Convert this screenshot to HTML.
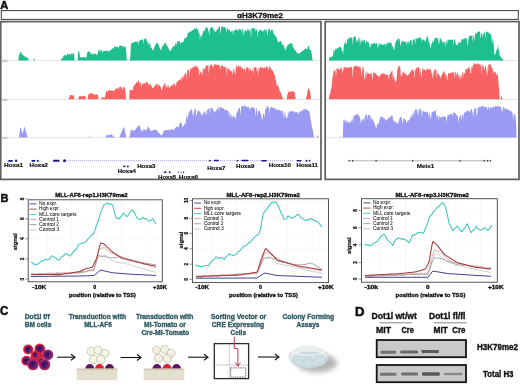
<!DOCTYPE html><html><head><meta charset="utf-8"><style>html,body{margin:0;padding:0;background:#fff;width:520px;height:385px;overflow:hidden;position:relative}</style></head><body><svg width="520" height="385" viewBox="0 0 520 385" style="filter:blur(0.35px);position:absolute;left:0;top:0;font-family:'Liberation Sans',sans-serif">
<rect width="520" height="385" fill="#fff"/>
<text x="0.3" y="8.7" font-size="11.5" font-weight="bold" fill="#111" text-anchor="start" textLength="8" lengthAdjust="spacingAndGlyphs" stroke="#111" stroke-width="0.5" >A</text>
<rect x="1.3" y="10.6" width="517" height="8.8" fill="#fff" stroke="#3a3a3a" stroke-width="1"/>
<text x="2.6" y="23.3" font-size="2.4" fill="#777">1.00</text>
<text x="2.6" y="62.0" font-size="2.4" fill="#777">1.00</text>
<text x="2.6" y="100.9" font-size="2.4" fill="#777">1.00</text>
<text x="2.6" y="139.0" font-size="2.4" fill="#777">1.00</text>
<text x="260" y="18.4" font-size="7.6" font-weight="bold" fill="#111" text-anchor="middle" textLength="46" lengthAdjust="spacingAndGlyphs" stroke="#111" stroke-width="0.3" >αH3K79me2</text>
<line x1="2" y1="60.4" x2="320" y2="60.4" stroke="#ddd" stroke-width="0.8"/>
<line x1="326" y1="60.4" x2="518" y2="60.4" stroke="#ddd" stroke-width="0.8"/>
<text x="2.5" y="61.6" font-size="2.6" fill="#999">0.00</text>
<line x1="2" y1="99.6" x2="320" y2="99.6" stroke="#ddd" stroke-width="0.8"/>
<line x1="326" y1="99.6" x2="518" y2="99.6" stroke="#ddd" stroke-width="0.8"/>
<text x="2.5" y="100.8" font-size="2.6" fill="#999">0.00</text>
<line x1="2" y1="137.6" x2="320" y2="137.6" stroke="#ddd" stroke-width="0.8"/>
<line x1="326" y1="137.6" x2="518" y2="137.6" stroke="#ddd" stroke-width="0.8"/>
<text x="2.5" y="138.79999999999998" font-size="2.6" fill="#999">0.00</text>
<line x1="7" y1="23" x2="7" y2="178" stroke="#f0f0f0" stroke-width="0.6"/>
<path d="M18.30,60.4 L18.30,60.4 L18.90,55.8 L19.50,53.8 L20.10,52.4 L20.70,51.8 L21.30,52.6 L21.90,54.1 L22.50,55.0 L23.10,55.1 L23.70,55.8 L24.30,56.2 L24.90,56.5 L25.50,56.8 L26.10,57.2 L26.70,57.5 L27.30,57.7 L27.90,58.0 L28.50,60.0 L28.60,60.4 Z" fill="#1dbf8c"/>
<rect x="33.8" y="58.6" width="1" height="1.8" fill="#1dbf8c"/>
<path d="M60.80,60.4 L60.80,60.4 L61.40,58.8 L62.00,58.3 L62.60,58.4 L63.20,56.7 L63.80,55.2 L64.40,54.8 L65.00,55.3 L65.60,55.8 L66.20,55.4 L66.80,55.1 L67.40,53.4 L68.00,53.0 L68.60,55.5 L69.20,53.6 L69.80,54.3 L70.40,55.0 L71.00,54.5 L71.60,53.3 L72.20,53.0 L72.80,55.0 L73.40,53.0 L74.00,53.0 L74.60,60.4 L75.20,60.4 L75.80,60.4 L76.40,60.4 L77.00,60.4 L77.60,60.4 L78.20,51.6 L78.80,50.9 L79.40,51.7 L80.00,57.1 L80.60,57.2 L81.20,57.4 L81.80,57.1 L82.40,57.1 L83.00,58.0 L83.60,57.0 L84.20,56.9 L84.80,56.9 L85.40,57.4 L86.00,58.3 L86.60,56.8 L87.20,51.9 L87.80,52.8 L88.40,51.0 L89.00,51.5 L89.60,51.6 L90.20,53.9 L90.80,51.8 L91.40,54.1 L92.00,54.8 L92.60,53.8 L93.20,53.5 L93.80,55.0 L94.40,53.7 L95.00,53.0 L95.60,54.0 L96.20,54.5 L96.80,55.0 L97.40,54.0 L98.00,52.3 L98.60,50.0 L99.20,48.7 L99.80,51.6 L100.40,51.6 L101.00,50.2 L101.60,50.3 L102.20,50.6 L102.80,53.3 L103.40,50.5 L104.00,51.1 L104.60,50.9 L105.20,51.1 L105.80,50.7 L106.40,51.0 L107.00,50.7 L107.60,50.4 L108.20,50.5 L108.80,52.7 L109.40,50.6 L110.00,50.6 L110.60,50.4 L111.20,49.4 L111.80,48.9 L112.40,48.5 L113.00,47.8 L113.60,49.4 L114.20,46.4 L114.80,46.4 L115.40,46.7 L116.00,47.4 L116.60,46.7 L117.20,46.7 L117.80,46.4 L118.40,48.8 L119.00,46.0 L119.60,46.1 L120.20,46.0 L120.80,45.5 L121.40,45.7 L122.00,45.8 L122.60,46.2 L123.20,45.9 L123.80,48.0 L124.40,46.2 L125.00,46.2 L125.60,47.0 L126.20,50.4 L126.80,60.4 L127.40,60.4 L128.00,60.4 L128.60,60.4 L129.20,60.4 L129.80,60.4 L130.40,56.2 L131.00,43.8 L131.60,43.4 L132.20,43.0 L132.80,42.7 L133.40,42.5 L134.00,42.0 L134.60,42.3 L135.20,41.4 L135.80,41.5 L136.40,41.7 L137.00,42.0 L137.60,41.0 L138.20,45.2 L138.80,41.2 L139.40,40.7 L140.00,40.4 L140.60,40.3 L141.20,40.0 L141.80,39.4 L142.40,39.2 L143.00,39.3 L143.60,44.6 L144.20,39.2 L144.80,38.8 L145.40,37.5 L146.00,39.2 L146.60,39.9 L147.20,42.4 L147.80,42.2 L148.40,45.6 L149.00,41.3 L149.60,44.5 L150.20,43.5 L150.80,48.5 L151.40,46.7 L152.00,48.7 L152.60,50.3 L153.20,50.4 L153.80,48.8 L154.40,47.5 L155.00,45.8 L155.60,44.5 L156.20,43.3 L156.80,42.3 L157.40,42.9 L158.00,44.3 L158.60,44.6 L159.20,47.0 L159.80,47.7 L160.40,49.3 L161.00,50.7 L161.60,47.6 L162.20,46.7 L162.80,45.3 L163.40,45.5 L164.00,44.0 L164.60,43.6 L165.20,42.7 L165.80,42.9 L166.40,45.0 L167.00,45.8 L167.60,46.5 L168.20,48.0 L168.80,48.8 L169.40,50.8 L170.00,50.9 L170.60,50.7 L171.20,49.5 L171.80,49.1 L172.40,47.5 L173.00,46.9 L173.60,45.7 L174.20,45.2 L174.80,47.1 L175.40,43.5 L176.00,42.2 L176.60,45.9 L177.20,40.5 L177.80,41.3 L178.40,41.2 L179.00,41.4 L179.60,41.5 L180.20,41.9 L180.80,44.8 L181.40,42.1 L182.00,42.3 L182.60,42.4 L183.20,42.0 L183.80,40.6 L184.40,38.8 L185.00,37.7 L185.60,37.7 L186.20,36.3 L186.80,38.8 L187.40,34.3 L188.00,32.6 L188.60,33.0 L189.20,32.3 L189.80,31.9 L190.40,31.4 L191.00,30.9 L191.60,31.4 L192.20,30.5 L192.80,30.1 L193.40,29.9 L194.00,29.0 L194.60,27.8 L195.20,29.2 L195.80,29.2 L196.40,27.4 L197.00,28.9 L197.60,29.5 L198.20,30.0 L198.80,33.8 L199.40,32.2 L200.00,40.8 L200.60,34.7 L201.20,35.8 L201.80,36.7 L202.40,34.0 L203.00,32.3 L203.60,30.6 L204.20,30.9 L204.80,30.1 L205.40,28.6 L206.00,26.9 L206.60,27.0 L207.20,28.5 L207.80,27.4 L208.40,33.1 L209.00,27.2 L209.60,36.8 L210.20,27.4 L210.80,28.1 L211.40,27.1 L212.00,27.3 L212.60,27.2 L213.20,29.1 L213.80,30.8 L214.40,30.3 L215.00,31.7 L215.60,32.0 L216.20,31.5 L216.80,29.7 L217.40,28.4 L218.00,30.1 L218.60,27.1 L219.20,26.3 L219.80,26.6 L220.40,35.1 L221.00,27.4 L221.60,26.2 L222.20,26.1 L222.80,27.2 L223.40,27.7 L224.00,26.6 L224.60,27.1 L225.20,28.8 L225.80,27.2 L226.40,33.3 L227.00,27.6 L227.60,28.6 L228.20,30.2 L228.80,29.3 L229.40,29.9 L230.00,29.9 L230.60,32.4 L231.20,31.9 L231.80,30.4 L232.40,29.9 L233.00,35.2 L233.60,30.7 L234.20,30.6 L234.80,30.7 L235.40,28.7 L236.00,30.5 L236.60,29.5 L237.20,28.9 L237.80,31.3 L238.40,30.2 L239.00,29.3 L239.60,29.1 L240.20,29.6 L240.80,29.8 L241.40,29.2 L242.00,34.1 L242.60,28.2 L243.20,29.1 L243.80,35.9 L244.40,30.9 L245.00,30.2 L245.60,30.2 L246.20,31.7 L246.80,30.7 L247.40,29.3 L248.00,29.1 L248.60,29.7 L249.20,32.3 L249.80,28.9 L250.40,28.0 L251.00,38.0 L251.60,29.1 L252.20,27.8 L252.80,28.6 L253.40,27.7 L254.00,28.6 L254.60,29.3 L255.20,27.4 L255.80,32.0 L256.40,29.6 L257.00,28.9 L257.60,37.4 L258.20,32.3 L258.80,30.6 L259.40,31.6 L260.00,29.2 L260.60,29.7 L261.20,30.0 L261.80,31.3 L262.40,30.3 L263.00,32.5 L263.60,30.4 L264.20,28.5 L264.80,30.4 L265.40,30.9 L266.00,29.8 L266.60,29.2 L267.20,35.3 L267.80,34.6 L268.40,28.9 L269.00,29.1 L269.60,29.2 L270.20,29.5 L270.80,32.1 L271.40,29.6 L272.00,30.0 L272.60,29.5 L273.20,32.8 L273.80,33.7 L274.40,34.7 L275.00,34.9 L275.60,36.5 L276.20,36.9 L276.80,38.4 L277.40,40.6 L278.00,42.1 L278.60,42.4 L279.20,41.7 L279.80,41.6 L280.40,41.2 L281.00,40.6 L281.60,42.5 L282.20,46.3 L282.80,43.2 L283.40,44.7 L284.00,45.9 L284.60,49.2 L285.20,48.0 L285.80,51.3 L286.40,47.5 L287.00,46.6 L287.60,45.2 L288.20,45.2 L288.80,43.9 L289.40,43.7 L290.00,44.6 L290.60,42.5 L291.20,43.3 L291.80,43.2 L292.40,44.2 L293.00,48.2 L293.60,46.6 L294.20,50.0 L294.80,49.8 L295.40,50.0 L296.00,51.5 L296.60,52.2 L297.20,53.7 L297.80,52.8 L298.40,53.4 L299.00,53.8 L299.60,53.0 L300.20,53.0 L300.80,52.3 L301.40,51.8 L302.00,51.4 L302.60,50.8 L303.20,50.5 L303.80,50.1 L304.40,49.5 L305.00,48.7 L305.60,48.3 L306.20,48.5 L306.80,49.7 L307.40,49.0 L308.00,45.8 L308.60,46.1 L309.20,47.0 L309.80,50.8 L310.40,49.4 L311.00,50.2 L311.60,53.3 L312.20,58.0 L312.70,60.4 Z" fill="#1dbf8c"/>
<path d="M328.80,60.4 L328.80,60.4 L329.40,57.6 L330.00,57.1 L330.60,57.3 L331.20,57.1 L331.80,56.4 L332.40,56.3 L333.00,56.2 L333.60,50.1 L334.20,50.0 L334.80,52.2 L335.40,48.7 L336.00,48.6 L336.60,48.7 L337.20,48.6 L337.80,48.2 L338.40,47.6 L339.00,47.2 L339.60,46.6 L340.20,46.9 L340.80,47.2 L341.40,48.1 L342.00,51.7 L342.60,49.9 L343.20,54.5 L343.80,46.2 L344.40,42.0 L345.00,45.2 L345.60,40.3 L346.20,43.3 L346.80,44.5 L347.40,38.4 L348.00,38.5 L348.60,39.7 L349.20,38.1 L349.80,36.8 L350.40,37.9 L351.00,37.7 L351.60,37.6 L352.20,37.2 L352.80,45.0 L353.40,37.0 L354.00,36.7 L354.60,36.6 L355.20,36.9 L355.80,36.1 L356.40,42.7 L357.00,39.3 L357.60,42.4 L358.20,36.8 L358.80,41.3 L359.40,36.6 L360.00,45.7 L360.60,41.0 L361.20,38.3 L361.80,42.7 L362.40,39.3 L363.00,42.2 L363.60,40.1 L364.20,39.7 L364.80,39.9 L365.40,44.6 L366.00,41.4 L366.60,41.7 L367.20,41.6 L367.80,42.1 L368.40,42.5 L369.00,43.0 L369.60,46.4 L370.20,48.6 L370.80,43.9 L371.40,44.1 L372.00,44.3 L372.60,43.8 L373.20,43.4 L373.80,43.2 L374.40,43.1 L375.00,43.1 L375.60,44.6 L376.20,42.8 L376.80,43.3 L377.40,46.5 L378.00,48.1 L378.60,43.7 L379.20,42.9 L379.80,45.7 L380.40,43.4 L381.00,43.8 L381.60,44.6 L382.20,44.7 L382.80,45.0 L383.40,44.8 L384.00,44.2 L384.60,44.3 L385.20,43.3 L385.80,47.1 L386.40,43.4 L387.00,43.7 L387.60,42.4 L388.20,43.7 L388.80,42.0 L389.40,42.8 L390.00,42.5 L390.60,42.4 L391.20,43.3 L391.80,44.2 L392.40,47.0 L393.00,45.5 L393.60,49.8 L394.20,50.0 L394.80,46.6 L395.40,42.6 L396.00,41.7 L396.60,40.2 L397.20,39.9 L397.80,38.2 L398.40,39.2 L399.00,38.4 L399.60,39.2 L400.20,44.2 L400.80,46.1 L401.40,41.8 L402.00,40.3 L402.60,40.9 L403.20,41.7 L403.80,41.9 L404.40,41.8 L405.00,41.6 L405.60,42.1 L406.20,42.0 L406.80,45.9 L407.40,41.6 L408.00,41.8 L408.60,41.5 L409.20,44.7 L409.80,40.7 L410.40,40.0 L411.00,40.3 L411.60,40.5 L412.20,46.6 L412.80,40.1 L413.40,39.6 L414.00,39.4 L414.60,38.6 L415.20,44.7 L415.80,38.0 L416.40,38.7 L417.00,38.8 L417.60,38.0 L418.20,38.1 L418.80,37.8 L419.40,37.7 L420.00,37.3 L420.60,38.1 L421.20,37.3 L421.80,42.4 L422.40,39.1 L423.00,39.9 L423.60,39.6 L424.20,39.9 L424.80,41.4 L425.40,41.7 L426.00,38.6 L426.60,38.0 L427.20,36.2 L427.80,35.9 L428.40,40.4 L429.00,43.8 L429.60,41.9 L430.20,48.5 L430.80,46.9 L431.40,44.2 L432.00,42.7 L432.60,41.5 L433.20,39.2 L433.80,44.1 L434.40,38.8 L435.00,38.0 L435.60,38.2 L436.20,37.7 L436.80,38.1 L437.40,38.4 L438.00,37.9 L438.60,43.1 L439.20,44.4 L439.80,37.6 L440.40,38.5 L441.00,39.2 L441.60,40.1 L442.20,41.7 L442.80,42.7 L443.40,42.3 L444.00,41.6 L444.60,41.4 L445.20,47.2 L445.80,41.3 L446.40,40.6 L447.00,44.9 L447.60,40.0 L448.20,39.5 L448.80,40.3 L449.40,39.3 L450.00,39.9 L450.60,40.3 L451.20,39.7 L451.80,39.5 L452.40,39.9 L453.00,39.1 L453.60,45.4 L454.20,39.0 L454.80,39.8 L455.40,42.2 L456.00,43.9 L456.60,45.4 L457.20,45.0 L457.80,44.3 L458.40,43.4 L459.00,42.2 L459.60,41.8 L460.20,41.8 L460.80,43.6 L461.40,39.8 L462.00,39.2 L462.60,39.4 L463.20,38.6 L463.80,39.5 L464.40,38.9 L465.00,37.8 L465.60,38.2 L466.20,38.3 L466.80,38.4 L467.40,45.4 L468.00,45.3 L468.60,36.8 L469.20,36.7 L469.80,35.6 L470.40,36.3 L471.00,35.1 L471.60,36.2 L472.20,35.1 L472.80,42.6 L473.40,35.0 L474.00,35.2 L474.60,41.8 L475.20,32.8 L475.80,33.0 L476.40,34.1 L477.00,32.8 L477.60,32.1 L478.20,31.7 L478.80,31.5 L479.40,31.7 L480.00,31.3 L480.60,39.0 L481.20,32.9 L481.80,33.1 L482.40,38.9 L483.00,31.2 L483.60,35.3 L484.20,32.4 L484.80,31.9 L485.40,39.4 L486.00,31.2 L486.60,31.6 L487.20,32.2 L487.80,31.8 L488.40,32.3 L489.00,33.6 L489.60,33.7 L490.20,32.9 L490.80,34.9 L491.40,36.3 L492.00,44.1 L492.60,38.7 L493.20,40.7 L493.80,45.5 L494.40,53.9 L495.00,55.6 L495.60,53.3 L496.20,51.2 L496.80,49.2 L497.40,49.6 L498.00,45.1 L498.60,48.7 L499.20,52.5 L499.80,55.8 L500.40,56.6 L501.00,57.3 L501.60,57.9 L502.20,58.6 L502.80,59.3 L503.40,60.0 L503.70,60.4 Z" fill="#1dbf8c"/>
<path d="M64.30,99.3 L64.30,99.3 L64.90,98.8 L65.50,99.3 L66.10,99.3 L66.70,99.3 L67.30,99.3 L67.90,99.3 L68.50,99.3 L69.10,98.0 L69.70,96.0 L70.30,95.2 L70.90,95.0 L71.50,94.8 L72.10,95.4 L72.70,95.1 L73.30,95.5 L73.90,95.8 L74.50,99.3 L75.10,99.3 L75.70,99.3 L76.30,99.3 L76.90,99.3 L77.50,99.3 L78.10,99.0 L78.70,97.1 L79.30,96.1 L79.90,96.4 L80.50,95.8 L81.10,95.8 L81.70,96.7 L82.30,96.8 L82.90,95.8 L83.50,95.9 L84.10,96.1 L84.70,95.9 L85.30,96.0 L85.90,97.8 L86.50,99.3 L87.10,99.3 L87.70,99.3 L88.30,94.2 L88.90,93.9 L89.50,94.5 L90.10,93.2 L90.70,93.2 L91.30,93.0 L91.90,93.3 L92.50,93.6 L93.10,94.2 L93.70,94.4 L94.30,94.4 L94.90,94.8 L95.50,94.7 L96.10,94.6 L96.70,94.9 L97.30,94.5 L97.90,94.3 L98.50,99.3 L99.10,99.3 L99.70,99.3 L100.30,99.3 L100.90,99.3 L101.50,97.0 L102.10,97.7 L102.70,97.2 L103.30,97.4 L103.90,97.5 L104.50,97.6 L105.10,97.0 L105.70,93.2 L106.30,91.1 L106.90,90.8 L107.50,93.0 L108.10,90.7 L108.70,90.2 L109.30,90.2 L109.90,89.9 L110.50,91.3 L111.10,90.5 L111.70,90.2 L112.30,90.5 L112.90,90.4 L113.50,91.1 L114.10,90.5 L114.70,90.3 L115.30,89.7 L115.90,88.9 L116.50,88.2 L117.10,87.7 L117.70,88.3 L118.30,89.9 L118.90,87.7 L119.50,86.9 L120.10,87.3 L120.70,86.3 L121.30,87.3 L121.90,88.7 L122.50,90.2 L123.10,86.6 L123.70,86.9 L124.30,87.0 L124.90,88.4 L125.50,92.0 L126.10,99.3 L126.70,99.3 L127.30,99.3 L127.90,99.3 L128.50,99.3 L129.10,99.3 L129.70,89.9 L130.30,90.0 L130.90,89.5 L131.50,90.3 L132.10,90.7 L132.70,90.0 L133.30,86.7 L133.90,85.4 L134.50,84.9 L135.10,84.2 L135.70,83.7 L136.30,82.4 L136.90,82.2 L137.50,82.0 L138.10,80.9 L138.70,80.0 L139.30,85.5 L139.90,81.4 L140.50,83.0 L141.10,84.2 L141.70,88.0 L142.30,84.3 L142.90,83.4 L143.50,83.5 L144.10,83.1 L144.70,82.5 L145.30,85.1 L145.90,82.3 L146.50,82.2 L147.10,81.9 L147.70,82.5 L148.30,83.4 L148.90,85.8 L149.50,83.7 L150.10,84.1 L150.70,85.1 L151.30,86.1 L151.90,86.9 L152.50,88.0 L153.10,88.2 L153.70,87.8 L154.30,86.2 L154.90,85.8 L155.50,84.9 L156.10,84.1 L156.70,84.4 L157.30,83.1 L157.90,87.8 L158.50,83.6 L159.10,84.9 L159.70,85.4 L160.30,86.4 L160.90,87.7 L161.50,90.7 L162.10,89.8 L162.70,86.5 L163.30,85.7 L163.90,85.0 L164.50,83.6 L165.10,82.9 L165.70,87.8 L166.30,87.5 L166.90,84.1 L167.50,86.9 L168.10,87.7 L168.70,85.0 L169.30,88.3 L169.90,87.8 L170.50,86.6 L171.10,85.4 L171.70,85.6 L172.30,84.3 L172.90,86.5 L173.50,83.6 L174.10,83.8 L174.70,83.4 L175.30,85.8 L175.90,87.0 L176.50,82.2 L177.10,82.4 L177.70,81.3 L178.30,80.7 L178.90,80.2 L179.50,79.9 L180.10,79.7 L180.70,78.1 L181.30,81.7 L181.90,76.7 L182.50,75.7 L183.10,79.7 L183.70,75.2 L184.30,75.8 L184.90,73.4 L185.50,73.0 L186.10,72.1 L186.70,78.8 L187.30,70.2 L187.90,70.7 L188.50,69.4 L189.10,69.6 L189.70,77.2 L190.30,69.6 L190.90,67.5 L191.50,68.7 L192.10,68.5 L192.70,67.1 L193.30,68.1 L193.90,65.7 L194.50,66.9 L195.10,67.0 L195.70,65.4 L196.30,66.2 L196.90,66.1 L197.50,67.6 L198.10,68.8 L198.70,68.6 L199.30,74.0 L199.90,75.6 L200.50,70.7 L201.10,72.7 L201.70,71.0 L202.30,76.4 L202.90,68.5 L203.50,68.7 L204.10,68.0 L204.70,70.5 L205.30,66.9 L205.90,66.6 L206.50,65.3 L207.10,65.5 L207.70,65.1 L208.30,65.5 L208.90,74.3 L209.50,66.1 L210.10,65.8 L210.70,64.9 L211.30,63.8 L211.90,65.2 L212.50,66.1 L213.10,68.1 L213.70,65.4 L214.30,63.4 L214.90,65.3 L215.50,64.2 L216.10,64.5 L216.70,64.8 L217.30,65.2 L217.90,64.1 L218.50,65.7 L219.10,64.5 L219.70,66.4 L220.30,69.7 L220.90,65.0 L221.50,65.5 L222.10,65.7 L222.70,65.6 L223.30,66.9 L223.90,66.9 L224.50,66.9 L225.10,65.9 L225.70,68.5 L226.30,66.7 L226.90,75.9 L227.50,66.6 L228.10,68.6 L228.70,69.1 L229.30,69.6 L229.90,70.8 L230.50,70.9 L231.10,71.6 L231.70,70.7 L232.30,70.7 L232.90,75.8 L233.50,68.3 L234.10,68.6 L234.70,73.1 L235.30,75.3 L235.90,66.2 L236.50,64.9 L237.10,68.7 L237.70,67.0 L238.30,65.4 L238.90,65.5 L239.50,67.1 L240.10,67.1 L240.70,65.7 L241.30,67.0 L241.90,69.9 L242.50,67.8 L243.10,67.6 L243.70,71.1 L244.30,68.4 L244.90,68.3 L245.50,73.2 L246.10,68.4 L246.70,67.0 L247.30,66.7 L247.90,68.3 L248.50,67.7 L249.10,71.6 L249.70,67.8 L250.30,68.1 L250.90,71.0 L251.50,71.3 L252.10,67.9 L252.70,71.1 L253.30,74.1 L253.90,66.5 L254.50,67.9 L255.10,67.4 L255.70,66.9 L256.30,66.8 L256.90,72.6 L257.50,66.8 L258.10,76.4 L258.70,66.7 L259.30,70.4 L259.90,67.1 L260.50,66.9 L261.10,67.5 L261.70,67.8 L262.30,67.3 L262.90,68.6 L263.50,67.7 L264.10,68.4 L264.70,66.6 L265.30,67.9 L265.90,68.1 L266.50,66.3 L267.10,66.3 L267.70,67.7 L268.30,71.1 L268.90,65.7 L269.50,66.8 L270.10,67.1 L270.70,68.4 L271.30,69.2 L271.90,69.5 L272.50,70.5 L273.10,71.8 L273.70,72.8 L274.30,73.9 L274.90,76.0 L275.50,80.0 L276.10,80.7 L276.70,85.6 L277.30,86.3 L277.90,85.0 L278.50,86.6 L279.10,88.4 L279.70,91.1 L280.30,91.6 L280.90,92.9 L281.50,94.5 L282.10,96.2 L282.70,97.9 L283.30,99.3 L283.30,99.3 Z" fill="#f96262"/>
<path d="M286.50,99.3 L286.50,99.3 L287.10,96.0 L287.70,93.6 L288.30,91.5 L288.90,91.5 L289.50,91.8 L290.10,92.0 L290.70,91.8 L291.30,91.5 L291.90,90.9 L292.50,91.2 L293.10,91.3 L293.70,91.7 L294.30,92.0 L294.90,93.2 L295.50,99.3 L295.50,99.3 Z" fill="#f96262"/>
<path d="M306.00,99.3 L306.00,99.3 L306.60,96.3 L307.20,93.1 L307.80,90.1 L308.40,88.6 L309.00,88.5 L309.60,90.0 L310.20,92.2 L310.80,97.5 L311.00,99.3 Z" fill="#f96262"/>
<path d="M328.80,99.3 L328.80,99.3 L329.40,95.6 L330.00,94.5 L330.60,90.9 L331.20,88.6 L331.80,85.9 L332.40,78.2 L333.00,75.2 L333.60,70.4 L334.20,71.3 L334.80,69.8 L335.40,70.5 L336.00,77.7 L336.60,68.0 L337.20,68.2 L337.80,68.2 L338.40,69.3 L339.00,69.1 L339.60,70.5 L340.20,68.6 L340.80,68.9 L341.40,67.1 L342.00,68.5 L342.60,73.8 L343.20,70.1 L343.80,67.5 L344.40,66.1 L345.00,68.3 L345.60,67.3 L346.20,67.6 L346.80,67.7 L347.40,67.2 L348.00,67.3 L348.60,68.4 L349.20,67.0 L349.80,67.7 L350.40,67.1 L351.00,66.5 L351.60,66.9 L352.20,67.8 L352.80,78.4 L353.40,67.5 L354.00,66.8 L354.60,66.1 L355.20,65.7 L355.80,65.6 L356.40,66.9 L357.00,65.1 L357.60,66.5 L358.20,66.4 L358.80,67.7 L359.40,66.6 L360.00,66.6 L360.60,66.9 L361.20,73.4 L361.80,76.7 L362.40,67.6 L363.00,67.1 L363.60,67.2 L364.20,77.9 L364.80,79.4 L365.40,70.5 L366.00,80.1 L366.60,70.6 L367.20,74.6 L367.80,72.0 L368.40,73.5 L369.00,73.7 L369.60,74.0 L370.20,73.5 L370.80,73.9 L371.40,72.5 L372.00,74.9 L372.60,81.4 L373.20,72.5 L373.80,72.5 L374.40,72.4 L375.00,73.4 L375.60,73.2 L376.20,73.4 L376.80,75.5 L377.40,75.1 L378.00,76.0 L378.60,75.5 L379.20,78.3 L379.80,75.9 L380.40,74.6 L381.00,75.0 L381.60,73.8 L382.20,73.3 L382.80,73.6 L383.40,73.2 L384.00,74.0 L384.60,73.8 L385.20,74.8 L385.80,74.4 L386.40,73.9 L387.00,75.6 L387.60,74.9 L388.20,74.7 L388.80,80.0 L389.40,74.9 L390.00,74.0 L390.60,72.9 L391.20,71.4 L391.80,71.6 L392.40,70.2 L393.00,80.8 L393.60,74.4 L394.20,76.5 L394.80,82.3 L395.40,78.9 L396.00,83.3 L396.60,79.9 L397.20,70.8 L397.80,68.4 L398.40,67.2 L399.00,65.0 L399.60,66.5 L400.20,66.5 L400.80,75.5 L401.40,76.1 L402.00,76.6 L402.60,71.6 L403.20,70.9 L403.80,73.4 L404.40,73.0 L405.00,72.8 L405.60,73.9 L406.20,75.2 L406.80,74.9 L407.40,76.0 L408.00,74.9 L408.60,75.0 L409.20,73.7 L409.80,72.9 L410.40,72.3 L411.00,71.5 L411.60,69.0 L412.20,70.3 L412.80,69.6 L413.40,72.0 L414.00,68.7 L414.60,79.3 L415.20,69.4 L415.80,69.2 L416.40,67.3 L417.00,68.6 L417.60,67.6 L418.20,67.6 L418.80,67.2 L419.40,67.6 L420.00,76.1 L420.60,67.0 L421.20,78.5 L421.80,75.1 L422.40,68.2 L423.00,68.4 L423.60,70.3 L424.20,69.4 L424.80,69.7 L425.40,71.2 L426.00,70.3 L426.60,69.0 L427.20,70.1 L427.80,69.0 L428.40,68.2 L429.00,69.6 L429.60,69.7 L430.20,69.5 L430.80,69.4 L431.40,74.6 L432.00,71.1 L432.60,78.5 L433.20,76.7 L433.80,70.8 L434.40,70.8 L435.00,68.5 L435.60,69.7 L436.20,70.1 L436.80,78.7 L437.40,69.3 L438.00,75.5 L438.60,73.4 L439.20,75.1 L439.80,76.6 L440.40,78.4 L441.00,76.3 L441.60,75.5 L442.20,74.3 L442.80,72.9 L443.40,71.6 L444.00,71.0 L444.60,73.0 L445.20,73.2 L445.80,77.6 L446.40,72.9 L447.00,79.3 L447.60,80.2 L448.20,73.5 L448.80,72.7 L449.40,73.7 L450.00,72.5 L450.60,73.3 L451.20,72.8 L451.80,72.4 L452.40,72.3 L453.00,72.5 L453.60,72.7 L454.20,71.5 L454.80,78.7 L455.40,71.3 L456.00,72.1 L456.60,76.2 L457.20,72.6 L457.80,72.7 L458.40,75.7 L459.00,78.5 L459.60,74.4 L460.20,75.0 L460.80,79.6 L461.40,77.0 L462.00,72.7 L462.60,72.1 L463.20,78.1 L463.80,72.0 L464.40,73.3 L465.00,74.0 L465.60,68.5 L466.20,69.7 L466.80,69.0 L467.40,69.1 L468.00,68.0 L468.60,67.0 L469.20,69.0 L469.80,66.1 L470.40,72.7 L471.00,74.0 L471.60,65.2 L472.20,68.5 L472.80,65.8 L473.40,64.7 L474.00,63.2 L474.60,63.0 L475.20,64.9 L475.80,63.6 L476.40,64.8 L477.00,63.8 L477.60,63.3 L478.20,63.4 L478.80,64.8 L479.40,64.4 L480.00,63.6 L480.60,66.5 L481.20,63.7 L481.80,75.6 L482.40,64.6 L483.00,64.7 L483.60,66.2 L484.20,69.1 L484.80,69.3 L485.40,66.0 L486.00,65.3 L486.60,76.2 L487.20,65.3 L487.80,76.7 L488.40,63.9 L489.00,64.8 L489.60,64.1 L490.20,63.9 L490.80,65.3 L491.40,66.2 L492.00,68.4 L492.60,68.1 L493.20,75.0 L493.80,71.2 L494.40,72.3 L495.00,71.5 L495.60,72.8 L496.20,73.9 L496.80,75.7 L497.40,73.8 L498.00,75.0 L498.60,83.7 L499.20,91.2 L499.80,99.3 L499.80,99.3 Z" fill="#f96262"/>
<path d="M500.50,99.3 L500.50,99.3 L501.10,97.0 L501.70,96.1 L502.30,98.0 L502.70,99.3 Z" fill="#f96262"/>
<path d="M19.00,137.4 L19.00,137.4 L19.60,133.0 L20.20,128.4 L20.80,127.5 L21.40,129.7 L22.00,132.4 L22.60,133.6 L23.20,131.3 L23.80,129.0 L24.40,126.6 L25.00,128.0 L25.60,130.5 L26.20,132.6 L26.80,134.8 L27.40,137.0 L27.50,137.4 Z" fill="#9a9af2"/>
<path d="M89.20,137.4 L89.20,137.4 L89.80,135.0 L90.20,137.4 Z" fill="#9a9af2"/>
<path d="M105.50,137.4 L105.50,137.4 L106.10,136.3 L106.70,135.2 L107.30,134.8 L107.90,135.0 L108.50,135.3 L109.10,135.4 L109.70,135.0 L110.30,134.5 L110.90,134.1 L111.50,134.5 L112.10,135.1 L112.70,135.6 L113.30,136.2 L113.90,136.7 L114.50,137.3 L114.60,137.4 Z" fill="#9a9af2"/>
<path d="M119.40,137.4 L119.40,137.4 L120.00,135.8 L120.60,134.3 L121.20,132.7 L121.80,131.4 L122.40,130.0 L123.00,128.7 L123.60,127.7 L124.20,126.6 L124.80,130.1 L125.40,133.0 L126.00,136.3 L126.60,137.4 L127.20,137.4 L127.80,137.4 L128.40,137.4 L129.00,137.4 L129.60,136.8 L130.20,133.6 L130.80,130.3 L131.40,129.4 L132.00,130.0 L132.60,130.3 L133.20,130.6 L133.80,131.1 L134.40,130.9 L135.00,129.8 L135.60,129.5 L136.20,128.5 L136.80,127.7 L137.40,126.8 L138.00,126.8 L138.60,125.6 L139.20,126.3 L139.80,124.9 L140.40,128.3 L141.00,130.5 L141.60,130.8 L142.20,131.7 L142.80,130.8 L143.40,129.6 L144.00,128.4 L144.60,130.1 L145.20,129.2 L145.80,130.9 L146.40,130.3 L147.00,129.4 L147.60,127.7 L148.20,126.3 L148.80,127.3 L149.40,128.6 L150.00,129.6 L150.60,130.6 L151.20,131.0 L151.80,131.1 L152.40,130.8 L153.00,130.2 L153.60,130.1 L154.20,129.7 L154.80,129.7 L155.40,129.4 L156.00,129.4 L156.60,130.0 L157.20,130.7 L157.80,131.4 L158.40,132.9 L159.00,132.7 L159.60,133.6 L160.20,134.1 L160.80,134.9 L161.40,135.6 L162.00,134.7 L162.60,133.9 L163.20,132.4 L163.80,131.1 L164.40,130.2 L165.00,130.3 L165.60,130.1 L166.20,130.3 L166.80,130.0 L167.40,130.0 L168.00,130.3 L168.60,129.8 L169.20,129.9 L169.80,129.6 L170.40,130.2 L171.00,129.6 L171.60,129.6 L172.20,129.3 L172.80,129.0 L173.40,130.1 L174.00,130.0 L174.60,128.7 L175.20,127.7 L175.80,127.5 L176.40,126.8 L177.00,126.2 L177.60,127.6 L178.20,126.3 L178.80,127.5 L179.40,123.7 L180.00,122.9 L180.60,122.5 L181.20,123.0 L181.80,123.8 L182.40,128.1 L183.00,125.1 L183.60,126.4 L184.20,124.9 L184.80,122.5 L185.40,125.5 L186.00,118.8 L186.60,116.6 L187.20,115.4 L187.80,120.0 L188.40,112.5 L189.00,112.9 L189.60,111.5 L190.20,110.4 L190.80,109.6 L191.40,109.6 L192.00,108.8 L192.60,116.3 L193.20,110.0 L193.80,117.6 L194.40,109.4 L195.00,108.3 L195.60,108.7 L196.20,115.9 L196.80,115.6 L197.40,109.5 L198.00,113.5 L198.60,109.8 L199.20,110.8 L199.80,111.5 L200.40,112.4 L201.00,113.4 L201.60,115.4 L202.20,115.2 L202.80,113.8 L203.40,111.6 L204.00,114.3 L204.60,110.1 L205.20,115.0 L205.80,109.2 L206.40,116.2 L207.00,109.6 L207.60,110.1 L208.20,109.0 L208.80,108.4 L209.40,107.6 L210.00,114.7 L210.60,107.7 L211.20,108.1 L211.80,107.2 L212.40,108.7 L213.00,109.6 L213.60,110.6 L214.20,111.5 L214.80,112.3 L215.40,111.3 L216.00,111.1 L216.60,110.1 L217.20,109.0 L217.80,108.5 L218.40,106.1 L219.00,111.2 L219.60,107.0 L220.20,108.1 L220.80,106.7 L221.40,107.6 L222.00,107.3 L222.60,109.3 L223.20,108.5 L223.80,107.8 L224.40,109.8 L225.00,109.7 L225.60,109.9 L226.20,109.9 L226.80,109.7 L227.40,110.8 L228.00,111.4 L228.60,110.8 L229.20,117.5 L229.80,112.7 L230.40,112.7 L231.00,118.2 L231.60,114.3 L232.20,118.4 L232.80,116.0 L233.40,115.6 L234.00,116.8 L234.60,117.4 L235.20,116.0 L235.80,120.8 L236.40,113.1 L237.00,112.8 L237.60,111.3 L238.20,109.2 L238.80,108.7 L239.40,107.8 L240.00,108.1 L240.60,115.7 L241.20,105.4 L241.80,107.1 L242.40,106.3 L243.00,106.2 L243.60,105.7 L244.20,106.5 L244.80,105.6 L245.40,106.0 L246.00,106.3 L246.60,106.7 L247.20,107.8 L247.80,106.8 L248.40,106.6 L249.00,107.1 L249.60,111.1 L250.20,108.2 L250.80,107.4 L251.40,107.7 L252.00,107.3 L252.60,107.6 L253.20,107.7 L253.80,107.5 L254.40,107.3 L255.00,109.2 L255.60,117.1 L256.20,107.8 L256.80,108.7 L257.40,116.7 L258.00,110.8 L258.60,111.1 L259.20,110.8 L259.80,111.4 L260.40,113.3 L261.00,114.1 L261.60,117.7 L262.20,121.0 L262.80,115.6 L263.40,113.7 L264.00,113.1 L264.60,118.3 L265.20,109.8 L265.80,108.8 L266.40,108.0 L267.00,105.1 L267.60,106.6 L268.20,108.6 L268.80,105.6 L269.40,113.9 L270.00,107.6 L270.60,108.0 L271.20,106.8 L271.80,107.3 L272.40,107.9 L273.00,107.6 L273.60,108.2 L274.20,107.6 L274.80,108.2 L275.40,109.6 L276.00,108.5 L276.60,109.8 L277.20,109.8 L277.80,110.5 L278.40,109.1 L279.00,110.2 L279.60,109.9 L280.20,111.2 L280.80,111.3 L281.40,110.2 L282.00,110.7 L282.60,110.6 L283.20,118.2 L283.80,111.2 L284.40,111.9 L285.00,119.0 L285.60,112.0 L286.20,118.1 L286.80,117.2 L287.40,118.4 L288.00,110.7 L288.60,114.8 L289.20,111.1 L289.80,111.5 L290.40,111.7 L291.00,110.9 L291.60,111.4 L292.20,111.5 L292.80,110.8 L293.40,111.3 L294.00,111.6 L294.60,113.1 L295.20,112.1 L295.80,112.2 L296.40,111.8 L297.00,112.6 L297.60,113.1 L298.20,111.7 L298.80,115.1 L299.40,112.1 L300.00,111.0 L300.60,111.3 L301.20,111.9 L301.80,110.0 L302.40,110.9 L303.00,109.7 L303.60,109.3 L304.20,108.4 L304.80,109.9 L305.40,108.0 L306.00,109.8 L306.60,109.7 L307.20,110.6 L307.80,109.7 L308.40,110.9 L309.00,110.9 L309.60,113.3 L310.20,116.2 L310.80,120.4 L311.40,123.1 L312.00,128.0 L312.60,129.3 L313.20,132.8 L313.80,136.3 L314.00,137.4 Z" fill="#9a9af2"/>
<path d="M316.50,137.4 L316.50,137.4 L317.10,136.0 L317.70,135.4 L318.30,136.5 L318.80,137.4 Z" fill="#9a9af2"/>
<path d="M339.60,137.4 L339.60,137.4 L340.20,135.7 L340.50,137.4 Z" fill="#9a9af2"/>
<path d="M342.80,137.4 L342.80,137.4 L343.40,119.6 L344.00,119.5 L344.60,119.5 L345.20,123.4 L345.80,120.0 L346.40,120.6 L347.00,121.4 L347.60,122.6 L348.20,122.6 L348.80,121.4 L349.40,124.1 L350.00,120.0 L350.60,124.1 L351.20,119.0 L351.80,122.3 L352.40,117.7 L353.00,123.0 L353.60,115.3 L354.20,115.1 L354.80,115.8 L355.40,115.1 L356.00,114.8 L356.60,114.4 L357.20,113.9 L357.80,114.0 L358.40,115.9 L359.00,114.9 L359.60,116.7 L360.20,118.0 L360.80,123.7 L361.40,120.8 L362.00,120.2 L362.60,119.1 L363.20,119.7 L363.80,116.8 L364.40,122.7 L365.00,113.8 L365.60,116.8 L366.20,114.4 L366.80,114.0 L367.40,120.3 L368.00,114.4 L368.60,115.4 L369.20,114.6 L369.80,114.9 L370.40,116.4 L371.00,121.6 L371.60,117.0 L372.20,118.3 L372.80,119.7 L373.40,121.1 L374.00,122.3 L374.60,123.7 L375.20,125.4 L375.80,127.2 L376.40,128.7 L377.00,125.1 L377.60,123.5 L378.20,122.4 L378.80,124.7 L379.40,120.0 L380.00,118.3 L380.60,117.0 L381.20,116.4 L381.80,116.1 L382.40,117.1 L383.00,117.7 L383.60,117.8 L384.20,118.0 L384.80,119.0 L385.40,119.4 L386.00,121.3 L386.60,119.7 L387.20,119.3 L387.80,119.1 L388.40,118.2 L389.00,118.3 L389.60,116.7 L390.20,116.4 L390.80,117.1 L391.40,115.6 L392.00,115.5 L392.60,115.4 L393.20,123.3 L393.80,118.2 L394.40,122.1 L395.00,120.6 L395.60,122.0 L396.20,123.3 L396.80,122.6 L397.40,124.3 L398.00,120.3 L398.60,123.7 L399.20,119.2 L399.80,117.6 L400.40,117.4 L401.00,116.8 L401.60,116.4 L402.20,121.6 L402.80,124.1 L403.40,118.0 L404.00,119.0 L404.60,118.5 L405.20,119.4 L405.80,119.7 L406.40,123.7 L407.00,121.2 L407.60,121.1 L408.20,121.2 L408.80,119.6 L409.40,120.4 L410.00,117.9 L410.60,116.8 L411.20,117.9 L411.80,114.1 L412.40,112.9 L413.00,118.1 L413.60,109.9 L414.20,115.1 L414.80,110.1 L415.40,109.2 L416.00,109.8 L416.60,109.1 L417.20,110.0 L417.80,113.6 L418.40,115.5 L419.00,108.6 L419.60,109.6 L420.20,108.6 L420.80,110.4 L421.40,109.6 L422.00,117.9 L422.60,110.1 L423.20,111.7 L423.80,110.7 L424.40,111.8 L425.00,112.0 L425.60,111.7 L426.20,111.8 L426.80,112.8 L427.40,111.5 L428.00,112.0 L428.60,117.7 L429.20,112.0 L429.80,114.2 L430.40,116.9 L431.00,120.1 L431.60,112.3 L432.20,111.9 L432.80,111.7 L433.40,111.0 L434.00,111.6 L434.60,111.6 L435.20,110.1 L435.80,110.6 L436.40,118.5 L437.00,113.1 L437.60,117.2 L438.20,114.8 L438.80,121.4 L439.40,115.2 L440.00,117.3 L440.60,117.5 L441.20,117.5 L441.80,116.8 L442.40,117.2 L443.00,116.5 L443.60,116.1 L444.20,116.8 L444.80,116.5 L445.40,116.9 L446.00,116.3 L446.60,122.4 L447.20,116.8 L447.80,115.0 L448.40,115.0 L449.00,114.6 L449.60,115.6 L450.20,114.3 L450.80,114.1 L451.40,113.5 L452.00,113.6 L452.60,116.5 L453.20,112.6 L453.80,112.3 L454.40,113.0 L455.00,112.4 L455.60,113.8 L456.20,114.2 L456.80,115.6 L457.40,115.6 L458.00,116.9 L458.60,123.1 L459.20,116.9 L459.80,115.8 L460.40,115.7 L461.00,114.8 L461.60,121.6 L462.20,114.2 L462.80,113.9 L463.40,118.8 L464.00,113.5 L464.60,112.0 L465.20,113.1 L465.80,112.1 L466.40,110.7 L467.00,112.1 L467.60,110.3 L468.20,111.6 L468.80,110.3 L469.40,111.0 L470.00,113.1 L470.60,109.5 L471.20,109.6 L471.80,108.7 L472.40,114.3 L473.00,109.4 L473.60,118.3 L474.20,107.8 L474.80,109.3 L475.40,108.6 L476.00,106.9 L476.60,115.1 L477.20,115.8 L477.80,106.5 L478.40,107.4 L479.00,108.0 L479.60,106.2 L480.20,106.7 L480.80,107.3 L481.40,105.7 L482.00,105.5 L482.60,106.6 L483.20,106.0 L483.80,107.1 L484.40,107.3 L485.00,107.3 L485.60,106.0 L486.20,107.8 L486.80,106.9 L487.40,110.7 L488.00,106.5 L488.60,106.9 L489.20,107.9 L489.80,110.1 L490.40,106.6 L491.00,107.2 L491.60,108.3 L492.20,107.9 L492.80,106.6 L493.40,107.1 L494.00,107.3 L494.60,107.3 L495.20,105.8 L495.80,106.5 L496.40,106.6 L497.00,105.8 L497.60,106.5 L498.20,106.2 L498.80,105.6 L499.40,107.3 L500.00,106.1 L500.60,106.8 L501.20,107.9 L501.80,110.2 L502.40,113.2 L503.00,106.6 L503.60,107.2 L504.20,107.6 L504.80,108.9 L505.40,108.6 L506.00,108.3 L506.60,109.4 L507.20,108.6 L507.80,110.0 L508.40,109.6 L509.00,110.1 L509.60,110.2 L510.20,111.2 L510.80,111.8 L511.40,110.8 L512.00,111.9 L512.60,113.2 L513.20,121.3 L513.80,112.8 L514.40,114.8 L515.00,114.8 L515.60,116.7 L516.20,123.7 L516.50,137.4 Z" fill="#9a9af2"/>
<line x1="66" y1="160.7" x2="293" y2="160.7" stroke="#8a8ac8" stroke-width="0.7" stroke-dasharray="1.2,0.8"/>
<line x1="349" y1="160.8" x2="490" y2="160.8" stroke="#a0a0a0" stroke-width="0.8"/>
<rect x="8.2" y="159.95000000000002" width="4.600000000000001" height="1.7" rx="0.5" fill="#1a1a90"/>
<circle cx="16.1" cy="160.8" r="1.2" fill="#1a1a90"/>
<rect x="31.5" y="159.95000000000002" width="3.799999999999997" height="1.7" rx="0.5" fill="#1a1a90"/>
<circle cx="37.8" cy="160.8" r="1.1" fill="#1a1a90"/>
<rect x="53.1" y="159.85000000000002" width="6.299999999999997" height="1.9" rx="0.5" fill="#1a1a90"/>
<circle cx="64.5" cy="160.8" r="1.5" fill="#1a1a90"/>
<polygon points="122.2,166.4 125.3,165.3 125.3,167.5" fill="#1a1a90"/>
<circle cx="127.8" cy="166.4" r="1.0" fill="#1a1a90"/>
<polygon points="162.6,172.2 166.3,171.1 166.3,173.29999999999998" fill="#1a1a90"/>
<circle cx="169.8" cy="172.2" r="1.0" fill="#1a1a90"/>
<circle cx="178.3" cy="172.2" r="0.6" fill="#1a1a90"/>
<circle cx="181" cy="172.2" r="0.6" fill="#1a1a90"/>
<circle cx="183.6" cy="172.2" r="0.7" fill="#1a1a90"/>
<circle cx="209.9" cy="160.6" r="0.9" fill="#1a1a90"/>
<rect x="213.9" y="159.85" width="4.699999999999989" height="1.5" rx="0.5" fill="#1a1a90"/>
<circle cx="237.5" cy="160.6" r="0.9" fill="#1a1a90"/>
<rect x="241.5" y="159.85" width="6.800000000000011" height="1.5" rx="0.5" fill="#1a1a90"/>
<rect x="261.4" y="159.89999999999998" width="5.400000000000034" height="1.6" rx="0.5" fill="#1a1a90"/>
<rect x="296.5" y="159.89999999999998" width="5.0" height="1.6" rx="0.5" fill="#1a1a90"/>
<circle cx="306.5" cy="160.7" r="1.0" fill="#1a1a90"/>
<circle cx="309.5" cy="160.7" r="0.9" fill="#1a1a90"/>
<text x="4" y="167" font-size="5.9" font-weight="bold" fill="#111" text-anchor="start" textLength="19" lengthAdjust="spacingAndGlyphs" stroke="#111" stroke-width="0.18" >Hoxa1</text>
<text x="29.6" y="167.2" font-size="5.9" font-weight="bold" fill="#111" text-anchor="start" textLength="18.4" lengthAdjust="spacingAndGlyphs" stroke="#111" stroke-width="0.18" >Hoxa2</text>
<text x="117.7" y="172.5" font-size="5.9" font-weight="bold" fill="#111" text-anchor="start" textLength="18.2" lengthAdjust="spacingAndGlyphs" stroke="#111" stroke-width="0.18" >Hoxa4</text>
<text x="137.2" y="167.7" font-size="5.9" font-weight="bold" fill="#111" text-anchor="start" textLength="18.2" lengthAdjust="spacingAndGlyphs" stroke="#111" stroke-width="0.18" >Hoxa3</text>
<text x="158" y="179.2" font-size="5.9" font-weight="bold" fill="#111" text-anchor="start" textLength="18.2" lengthAdjust="spacingAndGlyphs" stroke="#111" stroke-width="0.18" >Hoxa5</text>
<text x="178.8" y="179.2" font-size="5.9" font-weight="bold" fill="#111" text-anchor="start" textLength="19.2" lengthAdjust="spacingAndGlyphs" stroke="#111" stroke-width="0.18" >Hoxa6</text>
<text x="207.2" y="169.5" font-size="5.9" font-weight="bold" fill="#111" text-anchor="start" textLength="18.2" lengthAdjust="spacingAndGlyphs" stroke="#111" stroke-width="0.18" >Hoxa7</text>
<text x="236" y="167.5" font-size="5.9" font-weight="bold" fill="#111" text-anchor="start" textLength="18.3" lengthAdjust="spacingAndGlyphs" stroke="#111" stroke-width="0.18" >Hoxa9</text>
<text x="268.7" y="167.2" font-size="5.9" font-weight="bold" fill="#111" text-anchor="start" textLength="22.3" lengthAdjust="spacingAndGlyphs" stroke="#111" stroke-width="0.18" >Hoxa10</text>
<text x="296.5" y="166.6" font-size="5.9" font-weight="bold" fill="#111" text-anchor="start" textLength="21.5" lengthAdjust="spacingAndGlyphs" stroke="#111" stroke-width="0.18" >Hoxa11</text>
<text x="416.8" y="167.7" font-size="5.9" font-weight="bold" fill="#111" text-anchor="start" textLength="17.3" lengthAdjust="spacingAndGlyphs" stroke="#111" stroke-width="0.18" >Meis1</text>
<rect x="348.5" y="159.9" width="1.2" height="1.6" fill="#333"/>
<rect x="352" y="159.9" width="1.2" height="1.6" fill="#333"/>
<rect x="375.5" y="159.9" width="1.2" height="1.6" fill="#333"/>
<rect x="412" y="159.9" width="1.2" height="1.6" fill="#333"/>
<rect x="459.5" y="159.9" width="1.2" height="1.6" fill="#333"/>
<rect x="483.5" y="159.9" width="1.2" height="1.6" fill="#333"/>
<rect x="487" y="159.9" width="1.2" height="1.6" fill="#333"/>
<rect x="490" y="159.9" width="1.2" height="1.6" fill="#333"/>
<rect x="0.7" y="21.6" width="320.3" height="157.8" fill="none" stroke="#5e5e5e" stroke-width="1.7"/>
<rect x="325.2" y="21.6" width="193.8" height="157.8" fill="none" stroke="#5e5e5e" stroke-width="1.7"/>
<text x="0.5" y="202" font-size="11.5" font-weight="bold" fill="#111" text-anchor="start" textLength="8" lengthAdjust="spacingAndGlyphs" stroke="#111" stroke-width="0.5" >B</text>
<line x1="47.0" y1="199.8" x2="47.0" y2="281.8" stroke="#eeeeee" stroke-width="0.5"/>
<line x1="71.8" y1="199.8" x2="71.8" y2="281.8" stroke="#eeeeee" stroke-width="0.5"/>
<line x1="96.6" y1="199.8" x2="96.6" y2="281.8" stroke="#eeeeee" stroke-width="0.5"/>
<line x1="121.4" y1="199.8" x2="121.4" y2="281.8" stroke="#eeeeee" stroke-width="0.5"/>
<line x1="146.2" y1="199.8" x2="146.2" y2="281.8" stroke="#eeeeee" stroke-width="0.5"/>
<line x1="28.2" y1="279.1" x2="162.3" y2="279.1" stroke="#f3f3f3" stroke-width="0.5"/>
<line x1="28.2" y1="259" x2="162.3" y2="259" stroke="#f3f3f3" stroke-width="0.5"/>
<line x1="28.2" y1="238.8" x2="162.3" y2="238.8" stroke="#f3f3f3" stroke-width="0.5"/>
<line x1="28.2" y1="218.8" x2="162.3" y2="218.8" stroke="#f3f3f3" stroke-width="0.5"/>
<line x1="28.2" y1="198.9" x2="162.3" y2="198.9" stroke="#f3f3f3" stroke-width="0.5"/>
<polyline points="31.0,274.9 32.0,274.7 33.0,274.6 34.0,275.3 35.0,274.9 36.0,275.0 37.0,274.8 38.0,274.6 39.0,274.9 40.0,274.7 41.0,274.9 42.0,274.7 43.0,274.8 44.0,274.4 45.0,274.1 46.0,274.0 47.0,274.6 48.0,274.0 49.0,274.4 50.0,274.3 51.0,273.7 52.0,274.4 53.0,273.6 54.0,274.4 55.0,274.4 56.0,273.7 57.0,274.2 58.0,274.1 59.0,273.5 60.0,274.0 61.0,273.4 62.0,274.1 63.0,273.9 64.0,274.1 65.0,273.2 66.0,273.4 67.0,273.7 68.0,273.6 69.0,273.1 70.0,273.8 71.0,273.7 72.0,273.1 73.0,272.9 74.0,273.4 75.0,273.1 76.0,273.3 77.0,273.1 78.0,273.0 79.0,272.6 80.0,272.6 81.0,272.7 82.0,272.8 83.0,272.3 84.0,272.4 85.0,272.0 86.0,272.1 87.0,271.7 88.0,271.1 89.0,270.7 90.0,270.4 91.0,270.2 92.0,270.8 93.0,270.6 94.0,270.3 95.0,266.1 96.0,263.1 97.0,259.1 98.0,257.3 99.0,256.9 100.0,256.9 101.0,256.6 102.0,256.2 103.0,256.5 104.0,256.4 105.0,255.5 106.0,255.6 107.0,255.9 108.0,256.9 109.0,257.7 110.0,258.8 111.0,260.4 112.0,260.8 113.0,260.9 114.0,261.5 115.0,261.3 116.0,262.1 117.0,261.7 118.0,262.5 119.0,262.1 120.0,262.8 121.0,262.9 122.0,263.1 123.0,262.8 124.0,263.0 125.0,263.1 126.0,263.5 127.0,264.3 128.0,263.9 129.0,264.4 130.0,265.0 131.0,264.8 132.0,265.2 133.0,265.4 134.0,266.1 135.0,265.8 136.0,266.9 137.0,266.8 138.0,267.1 139.0,267.2 140.0,267.5 141.0,268.2 142.0,268.5 143.0,268.7 144.0,268.2 145.0,269.1 146.0,269.8 147.0,269.8 148.0,270.0 149.0,270.4 150.0,270.3 151.0,271.1 152.0,271.5 153.0,271.1 154.0,271.8 155.0,272.2 156.0,272.3" fill="none" stroke="#c4c4c4" stroke-width="0.8" stroke-linejoin="round"/>
<polyline points="31.0,274.6 32.0,274.0 33.0,274.2 34.0,274.1 35.0,274.6 36.0,274.5 37.0,274.7 38.0,273.9 39.0,274.2 40.0,273.8 41.0,273.9 42.0,274.2 43.0,273.7 44.0,273.8 45.0,274.2 46.0,274.1 47.0,273.7 48.0,274.1 49.0,274.3 50.0,273.4 51.0,274.2 52.0,274.1 53.0,273.7 54.0,273.5 55.0,274.2 56.0,273.6 57.0,273.3 58.0,273.3 59.0,274.0 60.0,273.7 61.0,273.9 62.0,273.8 63.0,273.6 64.0,274.0 65.0,273.3 66.0,273.5 67.0,273.7 68.0,273.5 69.0,273.7 70.0,273.4 71.0,273.5 72.0,272.8 73.0,272.9 74.0,273.0 75.0,272.7 76.0,272.9 77.0,272.7 78.0,272.8 79.0,273.2 80.0,272.9 81.0,272.6 82.0,272.1 83.0,271.9 84.0,272.3 85.0,271.7 86.0,271.4 87.0,270.7 88.0,270.9 89.0,270.1 90.0,270.0 91.0,270.3 92.0,269.7 93.0,269.3 94.0,269.2 95.0,266.1 96.0,262.8 97.0,259.0 98.0,255.5 99.0,255.8 100.0,255.8 101.0,255.7 102.0,256.4 103.0,256.4 104.0,255.8 105.0,256.5 106.0,256.6 107.0,257.4 108.0,257.3 109.0,257.4 110.0,257.7 111.0,258.0 112.0,257.6 113.0,257.8 114.0,258.0 115.0,257.4 116.0,257.1 117.0,257.8 118.0,257.2 119.0,256.7 120.0,256.5 121.0,256.9 122.0,257.6 123.0,258.0 124.0,257.9 125.0,257.8 126.0,258.4 127.0,259.2 128.0,259.0 129.0,259.7 130.0,259.9 131.0,259.3 132.0,260.2 133.0,260.4 134.0,260.5 135.0,260.5 136.0,261.1 137.0,260.8 138.0,261.3 139.0,261.6 140.0,262.3 141.0,262.5 142.0,262.1 143.0,262.5 144.0,262.4 145.0,263.4 146.0,263.5 147.0,263.1 148.0,263.6 149.0,263.8 150.0,263.5 151.0,264.3 152.0,264.2 153.0,264.6 154.0,264.6 155.0,264.2 156.0,264.7" fill="none" stroke="#9a9a9a" stroke-width="0.8" stroke-linejoin="round"/>
<polyline points="31.0,273.5 32.0,274.2 33.0,273.6 34.0,273.8 35.0,274.0 36.0,274.1 37.0,273.7 38.0,273.7 39.0,273.2 40.0,273.6 41.0,273.5 42.0,273.9 43.0,273.6 44.0,273.7 45.0,273.4 46.0,273.1 47.0,273.7 48.0,273.6 49.0,273.1 50.0,272.8 51.0,273.2 52.0,273.1 53.0,273.4 54.0,273.2 55.0,273.0 56.0,273.1 57.0,272.8 58.0,272.4 59.0,272.4 60.0,273.3 61.0,273.1 62.0,272.5 63.0,273.1 64.0,272.7 65.0,272.2 66.0,272.9 67.0,272.6 68.0,272.9 69.0,272.6 70.0,272.0 71.0,272.5 72.0,272.6 73.0,272.7 74.0,272.1 75.0,272.2 76.0,272.4 77.0,271.8 78.0,272.4 79.0,272.3 80.0,271.6 81.0,271.9 82.0,271.6 83.0,271.3 84.0,271.5 85.0,271.8 86.0,271.2 87.0,270.6 88.0,270.9 89.0,271.0 90.0,271.0 91.0,270.6 92.0,269.8 93.0,270.6 94.0,270.1 95.0,265.4 96.0,261.2 97.0,257.0 98.0,253.4 99.0,248.7 100.0,249.1 101.0,248.2 102.0,248.4 103.0,248.1 104.0,247.5 105.0,248.1 106.0,249.7 107.0,250.4 108.0,250.1 109.0,251.4 110.0,252.2 111.0,252.8 112.0,253.4 113.0,253.2 114.0,254.0 115.0,254.2 116.0,255.0 117.0,255.1 118.0,255.7 119.0,256.0 120.0,256.0 121.0,256.7 122.0,256.4 123.0,256.9 124.0,258.1 125.0,257.9 126.0,258.5 127.0,258.7 128.0,258.8 129.0,259.4 130.0,260.1 131.0,259.8 132.0,260.2 133.0,260.4 134.0,260.7 135.0,261.7 136.0,261.9 137.0,262.5 138.0,262.5 139.0,263.1 140.0,262.7 141.0,263.0 142.0,263.3 143.0,263.8 144.0,264.7 145.0,264.2 146.0,264.7 147.0,264.6 148.0,264.9 149.0,265.7 150.0,266.1 151.0,266.3 152.0,267.0 153.0,267.2 154.0,267.6 155.0,267.5 156.0,267.5" fill="none" stroke="#d8a0a0" stroke-width="0.8" stroke-linejoin="round"/>
<polyline points="31.0,276.5 32.0,276.5 33.0,276.5 34.0,276.5 35.0,276.5 36.0,276.4 37.0,276.4 38.0,276.4 39.0,276.4 40.0,276.4 41.0,276.4 42.0,276.4 43.0,276.4 44.0,276.4 45.0,276.4 46.0,276.3 47.0,276.3 48.0,276.3 49.0,276.3 50.0,276.3 51.0,276.3 52.0,276.3 53.0,276.3 54.0,276.3 55.0,276.3 56.0,276.2 57.0,276.2 58.0,276.2 59.0,276.2 60.0,276.2 61.0,276.2 62.0,276.2 63.0,276.2 64.0,276.2 65.0,276.2 66.0,276.1 67.0,276.1 68.0,276.1 69.0,276.1 70.0,276.1 71.0,276.1 72.0,276.1 73.0,276.1 74.0,276.1 75.0,276.1 76.0,276.0 77.0,276.0 78.0,276.0 79.0,276.0 80.0,276.0 81.0,276.0 82.0,275.9 83.0,275.9 84.0,275.9 85.0,275.8 86.0,275.8 87.0,275.8 88.0,275.7 89.0,275.7 90.0,275.6 91.0,275.6 92.0,275.6 93.0,275.5 94.0,275.5 95.0,274.7 96.0,273.8 97.0,273.0 98.0,272.1 99.0,271.3 100.0,270.4 101.0,270.1 102.0,270.4 103.0,270.6 104.0,270.8 105.0,271.1 106.0,271.3 107.0,271.5 108.0,271.8 109.0,272.0 110.0,272.2 111.0,272.5 112.0,272.7 113.0,272.8 114.0,272.9 115.0,272.9 116.0,273.0 117.0,273.1 118.0,273.2 119.0,273.3 120.0,273.4 121.0,273.4 122.0,273.5 123.0,273.6 124.0,273.7 125.0,273.8 126.0,273.9 127.0,273.9 128.0,274.0 129.0,274.1 130.0,274.2 131.0,274.2 132.0,274.3 133.0,274.3 134.0,274.4 135.0,274.4 136.0,274.5 137.0,274.5 138.0,274.6 139.0,274.6 140.0,274.7 141.0,274.7 142.0,274.8 143.0,274.8 144.0,274.9 145.0,274.9 146.0,275.0 147.0,275.0 148.0,275.1 149.0,275.1 150.0,275.2 151.0,275.2 152.0,275.3 153.0,275.3 154.0,275.4 155.0,275.4 156.0,275.5" fill="none" stroke="#3a3a8a" stroke-width="0.95" stroke-linejoin="round"/>
<polyline points="31.0,274.4 32.0,274.4 33.0,274.4 34.0,274.4 35.0,274.4 36.0,274.4 37.0,274.4 38.0,274.4 39.0,274.5 40.0,274.5 41.0,274.5 42.0,274.5 43.0,274.5 44.0,274.5 45.0,274.5 46.0,274.5 47.0,274.5 48.0,274.5 49.0,274.5 50.0,274.5 51.0,274.5 52.0,274.5 53.0,274.6 54.0,274.6 55.0,274.6 56.0,274.6 57.0,274.6 58.0,274.6 59.0,274.6 60.0,274.6 61.0,274.4 62.0,274.3 63.0,274.1 64.0,274.0 65.0,273.8 66.0,273.7 67.0,273.5 68.0,273.4 69.0,273.2 70.0,273.1 71.0,272.9 72.0,272.7 73.0,272.6 74.0,272.4 75.0,272.3 76.0,272.1 77.0,272.0 78.0,271.8 79.0,271.7 80.0,271.5 81.0,271.0 82.0,270.5 83.0,270.0 84.0,269.5 85.0,269.0 86.0,268.8 87.0,268.5 88.0,268.3 89.0,268.1 90.0,267.8 91.0,267.6 92.0,267.4 93.0,265.9 94.0,263.8 95.0,261.7 96.0,259.7 97.0,257.2 98.0,253.0 99.0,248.9 100.0,244.8 101.0,242.9 102.0,243.3 103.0,243.6 104.0,244.0 105.0,244.9 106.0,245.9 107.0,246.8 108.0,247.8 109.0,248.7 110.0,249.6 111.0,250.6 112.0,251.5 113.0,252.3 114.0,253.0 115.0,253.6 116.0,254.3 117.0,255.0 118.0,255.7 119.0,256.4 120.0,257.0 121.0,257.7 122.0,258.2 123.0,258.4 124.0,258.7 125.0,258.9 126.0,259.2 127.0,259.5 128.0,259.7 129.0,260.0 130.0,260.2 131.0,260.5 132.0,260.8 133.0,261.0 134.0,261.3 135.0,261.5 136.0,261.8 137.0,262.1 138.0,262.3 139.0,262.6 140.0,262.8 141.0,263.0 142.0,263.2 143.0,263.4 144.0,263.7 145.0,263.9 146.0,264.1 147.0,264.3 148.0,264.5 149.0,264.7 150.0,264.9 151.0,265.2 152.0,265.4 153.0,265.6 154.0,265.8 155.0,266.0 156.0,266.2" fill="none" stroke="#a83a3a" stroke-width="1.05" stroke-linejoin="round"/>
<polyline points="31.0,261.9 32.3,262.9 33.6,264.2 34.9,264.0 36.2,264.9 37.5,264.0 38.8,263.2 40.1,262.1 41.4,261.2 42.7,260.6 44.0,260.2 45.3,259.5 46.6,259.4 47.9,259.8 49.2,259.3 50.5,257.4 51.8,255.7 53.1,256.4 54.4,257.4 55.7,257.9 57.0,259.1 58.3,260.2 59.6,260.0 60.9,257.1 62.2,256.3 63.5,255.9 64.8,253.9 66.1,253.9 67.4,253.7 68.7,255.7 70.0,255.9 71.3,254.5 72.6,252.9 73.9,251.0 75.2,250.3 76.5,248.8 77.8,246.5 79.1,244.1 80.4,243.8 81.7,243.4 83.0,242.9 84.3,241.9 85.6,241.9 86.9,240.3 88.2,238.9 89.5,237.6 90.8,235.7 92.1,234.7 93.4,233.8 94.7,230.9 96.0,226.5 97.3,223.4 98.6,219.6 99.9,214.6 101.2,211.3 102.5,207.9 103.8,205.3 105.1,205.0 106.4,203.4 107.7,203.1 109.0,204.4 110.3,203.8 111.6,203.9 112.9,206.1 114.2,211.2 115.5,216.7 116.8,218.4 118.1,217.9 119.4,218.9 120.7,216.5 122.0,215.5 123.3,213.1 124.6,214.2 125.9,215.9 127.2,216.5 128.5,214.6 129.8,212.6 131.1,211.6 132.4,209.8 133.7,211.4 135.0,213.9 136.3,216.7 137.6,218.6 138.9,219.3 140.2,219.6 141.5,218.8 142.8,217.2 144.1,218.7 145.4,218.4 146.7,219.0 148.0,220.6 149.3,221.3 150.6,220.3 151.9,219.6 153.2,219.0 154.5,221.3 155.8,224.0" fill="none" stroke="#3ec6bd" stroke-width="1.05" stroke-linejoin="round"/>
<rect x="28.2" y="199.8" width="134.10000000000002" height="82.0" fill="none" stroke="#444" stroke-width="0.9"/>
<line x1="25.2" y1="279.1" x2="28.2" y2="279.1" stroke="#555" stroke-width="0.6"/>
<text transform="translate(23.6,279.1) rotate(-90)" font-size="4.7" font-weight="bold" fill="#222" stroke="#222" stroke-width="0.3" text-anchor="middle">0</text>
<line x1="25.2" y1="259" x2="28.2" y2="259" stroke="#555" stroke-width="0.6"/>
<text transform="translate(23.6,259) rotate(-90)" font-size="4.7" font-weight="bold" fill="#222" stroke="#222" stroke-width="0.3" text-anchor="middle">2</text>
<line x1="25.2" y1="238.8" x2="28.2" y2="238.8" stroke="#555" stroke-width="0.6"/>
<text transform="translate(23.6,238.8) rotate(-90)" font-size="4.7" font-weight="bold" fill="#222" stroke="#222" stroke-width="0.3" text-anchor="middle">4</text>
<line x1="25.2" y1="218.8" x2="28.2" y2="218.8" stroke="#555" stroke-width="0.6"/>
<text transform="translate(23.6,218.8) rotate(-90)" font-size="4.7" font-weight="bold" fill="#222" stroke="#222" stroke-width="0.3" text-anchor="middle">6</text>
<line x1="25.2" y1="198.9" x2="28.2" y2="198.9" stroke="#555" stroke-width="0.6"/>
<text transform="translate(23.6,198.9) rotate(-90)" font-size="4.7" font-weight="bold" fill="#222" stroke="#222" stroke-width="0.3" text-anchor="middle">8</text>
<text transform="translate(17.0,241.8) rotate(-90)" font-size="5.3" font-weight="bold" fill="#222" stroke="#222" stroke-width="0.3" text-anchor="middle" textLength="16.8" lengthAdjust="spacingAndGlyphs">signal</text>
<text x="55.3" y="196.6" font-size="5.5" font-weight="bold" fill="#111" text-anchor="start" textLength="72.4" lengthAdjust="spacingAndGlyphs" stroke="#111" stroke-width="0.32" >MLL-AF6-rep1.H3K79me2</text>
<line x1="29.5" y1="203.9" x2="36.5" y2="203.9" stroke="#3a3a8a" stroke-width="0.9"/>
<text x="39.1" y="205.2" font-size="5.3" fill="#222" stroke="#222" stroke-width="0.06" textLength="18.2" lengthAdjust="spacingAndGlyphs">No expr.</text>
<line x1="29.5" y1="209.1" x2="36.5" y2="209.1" stroke="#a83a3a" stroke-width="0.9"/>
<text x="39.1" y="210.4" font-size="5.3" fill="#222" stroke="#222" stroke-width="0.06" textLength="20.8" lengthAdjust="spacingAndGlyphs">High expr.</text>
<line x1="29.5" y1="214.3" x2="36.5" y2="214.3" stroke="#3ec6bd" stroke-width="0.9"/>
<text x="39.1" y="215.6" font-size="5.3" fill="#222" stroke="#222" stroke-width="0.06" textLength="37.3" lengthAdjust="spacingAndGlyphs">MLL core targets</text>
<line x1="29.5" y1="219.4" x2="36.5" y2="219.4" stroke="#d8a0a0" stroke-width="0.9"/>
<text x="39.1" y="220.7" font-size="5.3" fill="#222" stroke="#222" stroke-width="0.06" textLength="19.8" lengthAdjust="spacingAndGlyphs">Control 1</text>
<line x1="29.5" y1="224.6" x2="36.5" y2="224.6" stroke="#9a9a9a" stroke-width="0.9"/>
<text x="39.1" y="225.9" font-size="5.3" fill="#222" stroke="#222" stroke-width="0.06" textLength="19.8" lengthAdjust="spacingAndGlyphs">Control 2</text>
<line x1="29.5" y1="229.8" x2="36.5" y2="229.8" stroke="#c4c4c4" stroke-width="0.9"/>
<text x="39.1" y="231.1" font-size="5.3" fill="#222" stroke="#222" stroke-width="0.06" textLength="20.1" lengthAdjust="spacingAndGlyphs">Control 3</text>
<text x="32.3" y="289.2" font-size="5.8" font-weight="bold" fill="#111" text-anchor="start" textLength="14" lengthAdjust="spacingAndGlyphs" stroke="#111" stroke-width="0.35" >-10K</text>
<text x="93.2" y="289.2" font-size="5.8" font-weight="bold" fill="#111" text-anchor="start" textLength="2.9" lengthAdjust="spacingAndGlyphs" stroke="#111" stroke-width="0.35" >0</text>
<text x="153" y="289.2" font-size="5.8" font-weight="bold" fill="#111" text-anchor="start" textLength="14" lengthAdjust="spacingAndGlyphs" stroke="#111" stroke-width="0.35" >+10K</text>
<text x="69" y="296.9" font-size="5.8" font-weight="bold" fill="#111" text-anchor="start" textLength="67" lengthAdjust="spacingAndGlyphs" stroke="#111" stroke-width="0.3" >position (relative to TSS)</text>
<line x1="211.5" y1="198.8" x2="211.5" y2="282.6" stroke="#eeeeee" stroke-width="0.5"/>
<line x1="236.6" y1="198.8" x2="236.6" y2="282.6" stroke="#eeeeee" stroke-width="0.5"/>
<line x1="261.8" y1="198.8" x2="261.8" y2="282.6" stroke="#eeeeee" stroke-width="0.5"/>
<line x1="287.0" y1="198.8" x2="287.0" y2="282.6" stroke="#eeeeee" stroke-width="0.5"/>
<line x1="312.2" y1="198.8" x2="312.2" y2="282.6" stroke="#eeeeee" stroke-width="0.5"/>
<line x1="192.4" y1="279.4" x2="328.5" y2="279.4" stroke="#f3f3f3" stroke-width="0.5"/>
<line x1="192.4" y1="264.2" x2="328.5" y2="264.2" stroke="#f3f3f3" stroke-width="0.5"/>
<line x1="192.4" y1="248.8" x2="328.5" y2="248.8" stroke="#f3f3f3" stroke-width="0.5"/>
<line x1="192.4" y1="233.3" x2="328.5" y2="233.3" stroke="#f3f3f3" stroke-width="0.5"/>
<line x1="192.4" y1="218.3" x2="328.5" y2="218.3" stroke="#f3f3f3" stroke-width="0.5"/>
<line x1="192.4" y1="200.5" x2="328.5" y2="200.5" stroke="#f3f3f3" stroke-width="0.5"/>
<polyline points="196.0,276.9 197.0,276.7 198.0,276.5 199.0,277.2 200.0,276.8 201.0,276.9 202.0,276.7 203.0,276.4 204.0,276.7 205.0,276.5 206.0,276.6 207.0,276.4 208.0,276.6 209.0,276.1 210.0,275.7 211.0,275.7 212.0,276.2 213.0,275.6 214.0,276.0 215.0,275.9 216.0,275.2 217.0,275.9 218.0,275.1 219.0,275.9 220.0,275.8 221.0,275.1 222.0,275.5 223.0,275.5 224.0,274.8 225.0,275.3 226.0,274.7 227.0,275.4 228.0,275.1 229.0,275.3 230.0,274.3 231.0,274.5 232.0,274.8 233.0,274.7 234.0,274.2 235.0,274.8 236.0,274.7 237.0,274.1 238.0,273.9 239.0,274.3 240.0,274.0 241.0,274.2 242.0,274.0 243.0,273.8 244.0,273.4 245.0,273.4 246.0,273.7 247.0,273.9 248.0,273.5 249.0,273.8 250.0,273.5 251.0,273.8 252.0,273.5 253.0,273.1 254.0,272.8 255.0,272.7 256.0,272.6 257.0,273.4 258.0,271.4 259.0,269.3 260.0,266.6 261.0,265.2 262.0,262.6 263.0,261.4 264.0,259.2 265.0,258.2 266.0,258.1 267.0,257.9 268.0,258.3 269.0,258.5 270.0,257.7 271.0,257.9 272.0,258.4 273.0,259.5 274.0,260.3 275.0,261.4 276.0,263.0 277.0,263.4 278.0,263.5 279.0,264.2 280.0,264.0 281.0,264.8 282.0,264.4 283.0,265.2 284.0,264.9 285.0,265.6 286.0,265.7 287.0,265.8 288.0,265.5 289.0,265.7 290.0,265.7 291.0,266.1 292.0,266.8 293.0,266.4 294.0,266.7 295.0,267.3 296.0,267.1 297.0,267.5 298.0,267.6 299.0,268.3 300.0,268.0 301.0,269.1 302.0,268.9 303.0,269.3 304.0,269.3 305.0,269.5 306.0,270.2 307.0,270.4 308.0,270.5 309.0,270.0 310.0,270.7 311.0,271.3 312.0,271.3 313.0,271.4 314.0,271.7 315.0,271.5 316.0,272.3 317.0,272.6 318.0,272.1 319.0,272.8 320.0,273.1 321.0,273.1 322.0,273.6" fill="none" stroke="#c4c4c4" stroke-width="0.8" stroke-linejoin="round"/>
<polyline points="196.0,277.4 197.0,276.8 198.0,277.0 199.0,276.8 200.0,277.3 201.0,277.2 202.0,277.3 203.0,276.5 204.0,276.7 205.0,276.3 206.0,276.4 207.0,276.6 208.0,276.1 209.0,276.2 210.0,276.6 211.0,276.4 212.0,276.0 213.0,276.3 214.0,276.5 215.0,275.6 216.0,276.4 217.0,276.2 218.0,275.8 219.0,275.5 220.0,276.3 221.0,275.6 222.0,275.3 223.0,275.2 224.0,275.9 225.0,275.6 226.0,275.7 227.0,275.6 228.0,275.3 229.0,275.7 230.0,275.1 231.0,275.2 232.0,275.4 233.0,275.1 234.0,275.3 235.0,274.9 236.0,275.0 237.0,274.3 238.0,274.4 239.0,274.4 240.0,274.1 241.0,274.2 242.0,274.0 243.0,274.2 244.0,274.4 245.0,274.1 246.0,274.1 247.0,273.8 248.0,273.8 249.0,274.4 250.0,274.1 251.0,274.0 252.0,273.5 253.0,274.0 254.0,273.4 255.0,273.5 256.0,274.1 257.0,273.6 258.0,271.1 259.0,268.9 260.0,266.6 261.0,264.1 262.0,261.1 263.0,258.5 264.0,258.5 265.0,258.2 266.0,257.9 267.0,258.3 268.0,257.9 269.0,257.1 270.0,257.2 271.0,257.4 272.0,258.4 273.0,258.5 274.0,258.8 275.0,259.2 276.0,260.1 277.0,260.3 278.0,261.1 279.0,261.9 280.0,261.9 281.0,261.9 282.0,262.8 283.0,262.5 284.0,262.2 285.0,262.3 286.0,262.5 287.0,263.2 288.0,263.5 289.0,263.3 290.0,263.1 291.0,263.5 292.0,264.3 293.0,264.0 294.0,264.6 295.0,264.6 296.0,263.9 297.0,264.8 298.0,264.9 299.0,264.9 300.0,264.8 301.0,265.0 302.0,264.3 303.0,264.4 304.0,264.3 305.0,264.6 306.0,264.4 307.0,263.6 308.0,263.7 309.0,263.2 310.0,263.7 311.0,263.5 312.0,262.8 313.0,263.8 314.0,264.4 315.0,264.6 316.0,265.9 317.0,266.3 318.0,267.2 319.0,267.6 320.0,267.7 321.0,268.7 322.0,269.1" fill="none" stroke="#9a9a9a" stroke-width="0.8" stroke-linejoin="round"/>
<polyline points="196.0,276.3 197.0,276.9 198.0,276.3 199.0,276.6 200.0,276.7 201.0,276.8 202.0,276.4 203.0,276.4 204.0,275.8 205.0,276.2 206.0,276.0 207.0,276.5 208.0,276.1 209.0,276.2 210.0,275.9 211.0,275.5 212.0,276.2 213.0,276.1 214.0,275.6 215.0,275.2 216.0,275.6 217.0,275.5 218.0,275.7 219.0,275.5 220.0,275.3 221.0,275.3 222.0,275.1 223.0,274.7 224.0,274.6 225.0,275.4 226.0,275.3 227.0,274.7 228.0,275.2 229.0,274.8 230.0,274.3 231.0,275.0 232.0,274.6 233.0,274.9 234.0,274.6 235.0,274.0 236.0,274.4 237.0,274.5 238.0,274.6 239.0,274.0 240.0,274.1 241.0,274.2 242.0,273.6 243.0,274.2 244.0,274.1 245.0,273.3 246.0,273.8 247.0,273.5 248.0,273.2 249.0,273.6 250.0,273.9 251.0,273.4 252.0,272.9 253.0,273.2 254.0,273.5 255.0,273.6 256.0,273.3 257.0,272.5 258.0,270.8 259.0,267.9 260.0,264.7 261.0,262.1 262.0,259.5 263.0,257.4 264.0,254.3 265.0,252.3 266.0,252.0 267.0,252.9 268.0,253.2 269.0,253.3 270.0,253.6 271.0,255.0 272.0,255.5 273.0,255.2 274.0,256.3 275.0,257.1 276.0,257.6 277.0,258.1 278.0,258.1 279.0,259.0 280.0,259.3 281.0,260.3 282.0,260.6 283.0,261.3 284.0,261.8 285.0,261.9 286.0,262.5 287.0,262.3 288.0,262.7 289.0,263.8 290.0,263.6 291.0,264.2 292.0,264.4 293.0,264.4 294.0,265.1 295.0,265.7 296.0,265.5 297.0,265.8 298.0,266.0 299.0,266.3 300.0,267.3 301.0,267.4 302.0,267.8 303.0,267.7 304.0,268.2 305.0,267.6 306.0,267.7 307.0,268.0 308.0,268.3 309.0,269.1 310.0,268.5 311.0,268.9 312.0,268.7 313.0,268.8 314.0,269.5 315.0,269.8 316.0,269.8 317.0,270.4 318.0,270.5 319.0,270.8 320.0,270.6 321.0,270.5 322.0,270.5" fill="none" stroke="#d8a0a0" stroke-width="0.8" stroke-linejoin="round"/>
<polyline points="196.0,278.2 197.0,278.2 198.0,278.2 199.0,278.2 200.0,278.2 201.0,278.2 202.0,278.2 203.0,278.2 204.0,278.2 205.0,278.2 206.0,278.2 207.0,278.2 208.0,278.2 209.0,278.2 210.0,278.2 211.0,278.2 212.0,278.1 213.0,278.1 214.0,278.1 215.0,278.1 216.0,278.1 217.0,278.1 218.0,278.1 219.0,278.1 220.0,278.1 221.0,278.1 222.0,278.1 223.0,278.1 224.0,278.1 225.0,278.1 226.0,278.1 227.0,278.1 228.0,278.1 229.0,278.1 230.0,278.1 231.0,278.1 232.0,278.1 233.0,278.1 234.0,278.1 235.0,278.1 236.0,278.1 237.0,278.1 238.0,278.1 239.0,278.1 240.0,278.1 241.0,278.1 242.0,278.0 243.0,278.0 244.0,278.0 245.0,278.0 246.0,278.0 247.0,278.0 248.0,278.0 249.0,278.0 250.0,278.0 251.0,278.0 252.0,278.0 253.0,278.0 254.0,278.0 255.0,278.0 256.0,278.0 257.0,278.0 258.0,277.3 259.0,276.7 260.0,276.0 261.0,275.3 262.0,274.7 263.0,274.0 264.0,273.3 265.0,273.1 266.0,273.3 267.0,273.5 268.0,273.7 269.0,273.9 270.0,274.1 271.0,274.3 272.0,274.5 273.0,274.7 274.0,274.9 275.0,275.1 276.0,275.3 277.0,275.5 278.0,275.5 279.0,275.6 280.0,275.6 281.0,275.7 282.0,275.7 283.0,275.7 284.0,275.8 285.0,275.8 286.0,275.9 287.0,275.9 288.0,275.9 289.0,276.0 290.0,276.0 291.0,276.1 292.0,276.1 293.0,276.1 294.0,276.2 295.0,276.2 296.0,276.2 297.0,276.3 298.0,276.3 299.0,276.4 300.0,276.4 301.0,276.4 302.0,276.5 303.0,276.5 304.0,276.6 305.0,276.6 306.0,276.6 307.0,276.7 308.0,276.7 309.0,276.8 310.0,276.8 311.0,276.8 312.0,276.9 313.0,276.9 314.0,277.0 315.0,277.0 316.0,277.0 317.0,277.1 318.0,277.1 319.0,277.2 320.0,277.2 321.0,277.2 322.0,277.3" fill="none" stroke="#3a3a8a" stroke-width="0.95" stroke-linejoin="round"/>
<polyline points="196.0,276.3 197.0,276.3 198.0,276.2 199.0,276.2 200.0,276.2 201.0,276.2 202.0,276.1 203.0,276.1 204.0,276.1 205.0,276.0 206.0,276.0 207.0,276.0 208.0,275.9 209.0,275.9 210.0,275.9 211.0,275.9 212.0,275.8 213.0,275.8 214.0,275.8 215.0,275.7 216.0,275.7 217.0,275.7 218.0,275.6 219.0,275.6 220.0,275.6 221.0,275.6 222.0,275.5 223.0,275.5 224.0,275.5 225.0,275.4 226.0,275.4 227.0,275.4 228.0,275.4 229.0,275.3 230.0,275.3 231.0,275.3 232.0,275.2 233.0,275.2 234.0,275.2 235.0,275.1 236.0,275.1 237.0,275.1 238.0,275.1 239.0,275.0 240.0,275.0 241.0,274.8 242.0,274.7 243.0,274.5 244.0,274.3 245.0,274.1 246.0,274.0 247.0,273.8 248.0,273.6 249.0,273.4 250.0,273.3 251.0,273.1 252.0,272.9 253.0,272.7 254.0,272.6 255.0,272.4 256.0,272.2 257.0,272.1 258.0,269.7 259.0,266.5 260.0,263.2 261.0,260.0 262.0,257.4 263.0,254.8 264.0,252.1 265.0,249.5 266.0,248.7 267.0,249.7 268.0,250.7 269.0,251.7 270.0,252.7 271.0,253.7 272.0,254.7 273.0,255.7 274.0,256.7 275.0,257.7 276.0,258.7 277.0,259.7 278.0,260.2 279.0,260.5 280.0,260.8 281.0,261.1 282.0,261.4 283.0,261.7 284.0,262.0 285.0,262.3 286.0,262.6 287.0,262.9 288.0,263.2 289.0,263.5 290.0,263.8 291.0,264.1 292.0,264.4 293.0,264.7 294.0,265.0 295.0,265.3 296.0,265.6 297.0,265.7 298.0,265.9 299.0,266.1 300.0,266.2 301.0,266.4 302.0,266.6 303.0,266.7 304.0,266.9 305.0,267.1 306.0,267.2 307.0,267.4 308.0,267.6 309.0,267.7 310.0,267.9 311.0,268.1 312.0,268.2 313.0,268.4 314.0,268.6 315.0,268.7 316.0,268.9 317.0,269.1 318.0,269.2 319.0,269.4 320.0,269.6 321.0,269.7 322.0,269.9" fill="none" stroke="#a83a3a" stroke-width="1.05" stroke-linejoin="round"/>
<polyline points="195.5,264.9 196.8,265.4 198.1,266.4 199.4,265.8 200.7,266.4 202.0,266.5 203.3,266.3 204.6,265.7 205.9,265.6 207.2,265.8 208.5,265.7 209.8,263.8 211.1,261.9 212.4,260.5 213.7,259.6 215.0,257.6 216.3,256.8 217.6,258.2 218.9,258.1 220.2,257.6 221.5,257.7 222.8,258.0 224.1,259.7 225.4,257.2 226.7,256.4 228.0,255.3 229.3,253.9 230.6,254.7 231.9,255.0 233.2,255.9 234.5,254.9 235.8,254.8 237.1,253.3 238.4,251.5 239.7,251.0 241.0,249.7 242.3,247.7 243.6,245.9 244.9,246.0 246.2,245.1 247.5,244.1 248.8,242.6 250.1,242.4 251.4,240.7 252.7,239.3 254.0,237.9 255.3,236.2 256.6,235.5 257.9,234.9 259.2,233.7 260.5,229.1 261.8,221.1 263.1,214.6 264.4,211.7 265.7,210.4 267.0,208.9 268.3,206.5 269.6,205.5 270.9,203.1 272.2,202.5 273.5,203.0 274.8,201.7 276.1,202.3 277.4,204.2 278.7,206.6 280.0,210.3 281.3,213.2 282.6,215.6 283.9,219.4 285.2,219.4 286.5,218.6 287.8,216.1 289.1,216.2 290.4,217.3 291.7,218.0 293.0,218.0 294.3,217.0 295.6,216.3 296.9,214.5 298.2,214.4 299.5,215.8 300.8,217.5 302.1,218.4 303.4,218.7 304.7,220.5 306.0,220.3 307.3,219.3 308.6,220.2 309.9,218.9 311.2,218.4 312.5,219.3 313.8,220.5 315.1,220.6 316.4,221.2 317.7,221.6 319.0,223.0 320.3,225.0 321.6,227.2" fill="none" stroke="#3ec6bd" stroke-width="1.05" stroke-linejoin="round"/>
<rect x="192.4" y="198.8" width="136.1" height="83.80000000000001" fill="none" stroke="#444" stroke-width="0.9"/>
<line x1="189.4" y1="279.4" x2="192.4" y2="279.4" stroke="#555" stroke-width="0.6"/>
<text transform="translate(188,279.4) rotate(-90)" font-size="4.7" font-weight="bold" fill="#222" stroke="#222" stroke-width="0.3" text-anchor="middle">0</text>
<line x1="189.4" y1="264.2" x2="192.4" y2="264.2" stroke="#555" stroke-width="0.6"/>
<text transform="translate(188,264.2) rotate(-90)" font-size="4.7" font-weight="bold" fill="#222" stroke="#222" stroke-width="0.3" text-anchor="middle">2</text>
<line x1="189.4" y1="248.8" x2="192.4" y2="248.8" stroke="#555" stroke-width="0.6"/>
<text transform="translate(188,248.8) rotate(-90)" font-size="4.7" font-weight="bold" fill="#222" stroke="#222" stroke-width="0.3" text-anchor="middle">4</text>
<line x1="189.4" y1="233.3" x2="192.4" y2="233.3" stroke="#555" stroke-width="0.6"/>
<text transform="translate(188,233.3) rotate(-90)" font-size="4.7" font-weight="bold" fill="#222" stroke="#222" stroke-width="0.3" text-anchor="middle">6</text>
<line x1="189.4" y1="218.3" x2="192.4" y2="218.3" stroke="#555" stroke-width="0.6"/>
<text transform="translate(188,218.3) rotate(-90)" font-size="4.7" font-weight="bold" fill="#222" stroke="#222" stroke-width="0.3" text-anchor="middle">8</text>
<line x1="189.4" y1="200.5" x2="192.4" y2="200.5" stroke="#555" stroke-width="0.6"/>
<text transform="translate(188,200.5) rotate(-90)" font-size="4.7" font-weight="bold" fill="#222" stroke="#222" stroke-width="0.3" text-anchor="middle">10</text>
<text transform="translate(182.5,240) rotate(-90)" font-size="5.3" font-weight="bold" fill="#222" stroke="#222" stroke-width="0.3" text-anchor="middle" textLength="16.8" lengthAdjust="spacingAndGlyphs">signal</text>
<text x="226.4" y="196.6" font-size="5.5" font-weight="bold" fill="#111" text-anchor="start" textLength="73.6" lengthAdjust="spacingAndGlyphs" stroke="#111" stroke-width="0.32" >MLL-AF6-rep2.H3K79me2</text>
<line x1="194.1" y1="203.1" x2="201.1" y2="203.1" stroke="#3a3a8a" stroke-width="0.9"/>
<text x="203.70000000000002" y="204.4" font-size="5.3" fill="#222" stroke="#222" stroke-width="0.06" textLength="18.2" lengthAdjust="spacingAndGlyphs">No expr.</text>
<line x1="194.1" y1="208.3" x2="201.1" y2="208.3" stroke="#a83a3a" stroke-width="0.9"/>
<text x="203.70000000000002" y="209.6" font-size="5.3" fill="#222" stroke="#222" stroke-width="0.06" textLength="20.8" lengthAdjust="spacingAndGlyphs">High expr.</text>
<line x1="194.1" y1="213.5" x2="201.1" y2="213.5" stroke="#3ec6bd" stroke-width="0.9"/>
<text x="203.70000000000002" y="214.8" font-size="5.3" fill="#222" stroke="#222" stroke-width="0.06" textLength="37.3" lengthAdjust="spacingAndGlyphs">MLL core targets</text>
<line x1="194.1" y1="218.6" x2="201.1" y2="218.6" stroke="#d8a0a0" stroke-width="0.9"/>
<text x="203.70000000000002" y="219.9" font-size="5.3" fill="#222" stroke="#222" stroke-width="0.06" textLength="19.8" lengthAdjust="spacingAndGlyphs">Control 1</text>
<line x1="194.1" y1="223.8" x2="201.1" y2="223.8" stroke="#9a9a9a" stroke-width="0.9"/>
<text x="203.70000000000002" y="225.1" font-size="5.3" fill="#222" stroke="#222" stroke-width="0.06" textLength="19.8" lengthAdjust="spacingAndGlyphs">Control 2</text>
<line x1="194.1" y1="229.0" x2="201.1" y2="229.0" stroke="#c4c4c4" stroke-width="0.9"/>
<text x="203.70000000000002" y="230.3" font-size="5.3" fill="#222" stroke="#222" stroke-width="0.06" textLength="20.1" lengthAdjust="spacingAndGlyphs">Control 3</text>
<text x="195.5" y="289.2" font-size="5.8" font-weight="bold" fill="#111" text-anchor="start" textLength="13.5" lengthAdjust="spacingAndGlyphs" stroke="#111" stroke-width="0.35" >-10K</text>
<text x="259" y="289.2" font-size="5.8" font-weight="bold" fill="#111" text-anchor="start" textLength="3" lengthAdjust="spacingAndGlyphs" stroke="#111" stroke-width="0.35" >0</text>
<text x="318" y="289.2" font-size="5.8" font-weight="bold" fill="#111" text-anchor="start" textLength="15.6" lengthAdjust="spacingAndGlyphs" stroke="#111" stroke-width="0.35" >+10K</text>
<text x="229" y="296.9" font-size="5.8" font-weight="bold" fill="#111" text-anchor="start" textLength="69" lengthAdjust="spacingAndGlyphs" stroke="#111" stroke-width="0.3" >position (relative to TSS)</text>
<line x1="380.5" y1="198.7" x2="380.5" y2="282.2" stroke="#eeeeee" stroke-width="0.5"/>
<line x1="405.6" y1="198.7" x2="405.6" y2="282.2" stroke="#eeeeee" stroke-width="0.5"/>
<line x1="430.8" y1="198.7" x2="430.8" y2="282.2" stroke="#eeeeee" stroke-width="0.5"/>
<line x1="455.9" y1="198.7" x2="455.9" y2="282.2" stroke="#eeeeee" stroke-width="0.5"/>
<line x1="481.0" y1="198.7" x2="481.0" y2="282.2" stroke="#eeeeee" stroke-width="0.5"/>
<line x1="361.5" y1="279" x2="497.3" y2="279" stroke="#f3f3f3" stroke-width="0.5"/>
<line x1="361.5" y1="262.5" x2="497.3" y2="262.5" stroke="#f3f3f3" stroke-width="0.5"/>
<line x1="361.5" y1="245" x2="497.3" y2="245" stroke="#f3f3f3" stroke-width="0.5"/>
<line x1="361.5" y1="227.8" x2="497.3" y2="227.8" stroke="#f3f3f3" stroke-width="0.5"/>
<line x1="361.5" y1="210.5" x2="497.3" y2="210.5" stroke="#f3f3f3" stroke-width="0.5"/>
<polyline points="365.0,275.9 366.0,275.7 367.0,275.6 368.0,276.3 369.0,276.0 370.0,276.0 371.0,275.9 372.0,275.7 373.0,276.0 374.0,275.8 375.0,276.0 376.0,275.8 377.0,276.0 378.0,275.5 379.0,275.2 380.0,275.2 381.0,275.7 382.0,275.1 383.0,275.6 384.0,275.5 385.0,274.9 386.0,275.6 387.0,274.8 388.0,275.6 389.0,275.6 390.0,274.9 391.0,275.4 392.0,275.4 393.0,274.7 394.0,275.2 395.0,274.7 396.0,275.4 397.0,275.2 398.0,275.4 399.0,274.5 400.0,274.7 401.0,275.0 402.0,274.9 403.0,274.5 404.0,275.1 405.0,275.1 406.0,274.5 407.0,274.3 408.0,274.8 409.0,274.5 410.0,274.7 411.0,274.5 412.0,274.4 413.0,274.0 414.0,274.1 415.0,274.4 416.0,274.6 417.0,274.3 418.0,274.6 419.0,274.3 420.0,274.6 421.0,274.4 422.0,274.0 423.0,273.8 424.0,273.7 425.0,273.6 426.0,274.4 427.0,274.4 428.0,274.3 429.0,270.6 430.0,268.2 431.0,264.7 432.0,262.5 433.0,259.4 434.0,256.5 435.0,253.4 436.0,252.2 437.0,253.5 438.0,254.5 439.0,254.7 440.0,255.8 441.0,257.0 442.0,257.9 443.0,258.5 444.0,259.5 445.0,260.7 446.0,260.4 447.0,260.8 448.0,261.7 449.0,261.7 450.0,262.8 451.0,262.6 452.0,263.6 453.0,263.5 454.0,264.5 455.0,264.8 456.0,265.2 457.0,265.1 458.0,265.3 459.0,265.4 460.0,265.7 461.0,266.4 462.0,266.0 463.0,266.4 464.0,267.0 465.0,266.8 466.0,267.1 467.0,267.3 468.0,267.9 469.0,267.6 470.0,268.6 471.0,268.5 472.0,268.8 473.0,268.8 474.0,269.0 475.0,269.7 476.0,269.8 477.0,269.9 478.0,269.3 479.0,270.1 480.0,270.7 481.0,270.6 482.0,270.7 483.0,271.0 484.0,270.7 485.0,271.5 486.0,271.8 487.0,271.3 488.0,271.9 489.0,272.2 490.0,272.2 491.0,272.7" fill="none" stroke="#c4c4c4" stroke-width="0.8" stroke-linejoin="round"/>
<polyline points="365.0,276.6 366.0,276.0 367.0,276.2 368.0,276.1 369.0,276.6 370.0,276.5 371.0,276.7 372.0,275.8 373.0,276.1 374.0,275.7 375.0,275.8 376.0,276.1 377.0,275.6 378.0,275.7 379.0,276.1 380.0,275.9 381.0,275.6 382.0,275.9 383.0,276.1 384.0,275.3 385.0,276.0 386.0,275.9 387.0,275.5 388.0,275.2 389.0,276.0 390.0,275.3 391.0,275.1 392.0,275.0 393.0,275.7 394.0,275.5 395.0,275.6 396.0,275.5 397.0,275.3 398.0,275.7 399.0,275.0 400.0,275.2 401.0,275.4 402.0,275.2 403.0,275.4 404.0,275.0 405.0,275.1 406.0,274.4 407.0,274.6 408.0,274.6 409.0,274.3 410.0,274.4 411.0,274.3 412.0,274.4 413.0,274.7 414.0,274.4 415.0,274.4 416.0,274.2 417.0,274.2 418.0,274.8 419.0,274.5 420.0,274.4 421.0,273.9 422.0,274.5 423.0,273.9 424.0,274.0 425.0,274.6 426.0,274.2 427.0,274.1 428.0,274.2 429.0,271.5 430.0,268.6 431.0,265.2 432.0,262.1 433.0,259.5 434.0,257.8 435.0,257.7 436.0,258.4 437.0,258.4 438.0,257.8 439.0,258.2 440.0,257.9 441.0,258.8 442.0,258.8 443.0,259.0 444.0,259.3 445.0,260.1 446.0,260.2 447.0,260.9 448.0,261.6 449.0,261.5 450.0,261.7 451.0,262.9 452.0,262.8 453.0,262.8 454.0,263.1 455.0,263.6 456.0,264.2 457.0,264.5 458.0,264.2 459.0,264.0 460.0,264.4 461.0,265.1 462.0,264.7 463.0,265.3 464.0,265.3 465.0,264.5 466.0,265.3 467.0,265.4 468.0,265.3 469.0,265.2 470.0,265.6 471.0,265.2 472.0,265.6 473.0,265.8 474.0,266.4 475.0,266.4 476.0,266.0 477.0,266.5 478.0,266.4 479.0,267.4 480.0,267.6 481.0,267.2 482.0,267.8 483.0,268.0 484.0,267.8 485.0,268.6 486.0,268.7 487.0,269.1 488.0,269.1 489.0,268.8 490.0,269.4 491.0,269.3" fill="none" stroke="#9a9a9a" stroke-width="0.8" stroke-linejoin="round"/>
<polyline points="365.0,275.3 366.0,276.0 367.0,275.4 368.0,275.6 369.0,275.8 370.0,275.9 371.0,275.5 372.0,275.5 373.0,275.0 374.0,275.3 375.0,275.2 376.0,275.7 377.0,275.3 378.0,275.5 379.0,275.1 380.0,274.8 381.0,275.4 382.0,275.4 383.0,274.9 384.0,274.6 385.0,274.9 386.0,274.9 387.0,275.1 388.0,274.9 389.0,274.7 390.0,274.8 391.0,274.5 392.0,274.1 393.0,274.1 394.0,275.0 395.0,274.8 396.0,274.2 397.0,274.8 398.0,274.4 399.0,273.9 400.0,274.6 401.0,274.3 402.0,274.6 403.0,274.3 404.0,273.7 405.0,274.1 406.0,274.3 407.0,274.3 408.0,273.7 409.0,273.9 410.0,274.0 411.0,273.4 412.0,274.1 413.0,273.9 414.0,273.2 415.0,273.7 416.0,273.4 417.0,273.2 418.0,273.5 419.0,273.9 420.0,273.4 421.0,272.9 422.0,273.3 423.0,273.5 424.0,273.6 425.0,273.3 426.0,272.6 427.0,273.5 428.0,273.1 429.0,268.8 430.0,265.0 431.0,261.1 432.0,257.8 433.0,253.5 434.0,250.3 435.0,249.9 436.0,250.7 437.0,250.9 438.0,250.9 439.0,251.2 440.0,252.4 441.0,253.4 442.0,253.4 443.0,254.9 444.0,256.1 445.0,256.9 446.0,257.8 447.0,258.1 448.0,259.4 449.0,260.1 450.0,261.4 451.0,261.5 452.0,261.8 453.0,262.1 454.0,261.9 455.0,262.5 456.0,262.1 457.0,262.5 458.0,263.4 459.0,263.2 460.0,263.7 461.0,263.8 462.0,263.8 463.0,264.3 464.0,264.9 465.0,264.6 466.0,264.8 467.0,264.9 468.0,265.2 469.0,266.1 470.0,266.2 471.0,266.6 472.0,266.4 473.0,266.7 474.0,266.1 475.0,266.1 476.0,266.3 477.0,266.5 478.0,267.2 479.0,266.6 480.0,266.9 481.0,266.6 482.0,266.6 483.0,267.2 484.0,267.4 485.0,267.4 486.0,267.9 487.0,267.9 488.0,268.1 489.0,267.8 490.0,267.6 491.0,267.6" fill="none" stroke="#d8a0a0" stroke-width="0.8" stroke-linejoin="round"/>
<polyline points="365.0,277.3 366.0,277.3 367.0,277.3 368.0,277.3 369.0,277.3 370.0,277.3 371.0,277.3 372.0,277.3 373.0,277.3 374.0,277.3 375.0,277.3 376.0,277.3 377.0,277.3 378.0,277.3 379.0,277.3 380.0,277.3 381.0,277.3 382.0,277.3 383.0,277.3 384.0,277.3 385.0,277.3 386.0,277.3 387.0,277.3 388.0,277.3 389.0,277.3 390.0,277.3 391.0,277.3 392.0,277.3 393.0,277.3 394.0,277.3 395.0,277.3 396.0,277.3 397.0,277.3 398.0,277.3 399.0,277.3 400.0,277.3 401.0,277.3 402.0,277.3 403.0,277.3 404.0,277.3 405.0,277.3 406.0,277.3 407.0,277.3 408.0,277.3 409.0,277.3 410.0,277.3 411.0,277.3 412.0,277.3 413.0,277.3 414.0,277.3 415.0,277.3 416.0,277.3 417.0,277.3 418.0,277.3 419.0,277.3 420.0,277.3 421.0,277.3 422.0,277.3 423.0,277.3 424.0,277.3 425.0,277.3 426.0,277.3 427.0,277.3 428.0,277.3 429.0,276.0 430.0,274.6 431.0,273.3 432.0,271.9 433.0,271.1 434.0,271.2 435.0,271.4 436.0,271.6 437.0,271.7 438.0,271.9 439.0,272.1 440.0,272.2 441.0,272.4 442.0,272.6 443.0,272.8 444.0,272.9 445.0,273.1 446.0,273.3 447.0,273.4 448.0,273.6 449.0,273.7 450.0,273.7 451.0,273.8 452.0,273.9 453.0,273.9 454.0,274.0 455.0,274.0 456.0,274.1 457.0,274.2 458.0,274.2 459.0,274.3 460.0,274.4 461.0,274.4 462.0,274.5 463.0,274.6 464.0,274.6 465.0,274.7 466.0,274.8 467.0,274.8 468.0,274.9 469.0,274.9 470.0,275.0 471.0,275.1 472.0,275.1 473.0,275.2 474.0,275.3 475.0,275.3 476.0,275.4 477.0,275.5 478.0,275.5 479.0,275.6 480.0,275.6 481.0,275.7 482.0,275.8 483.0,275.8 484.0,275.9 485.0,276.0 486.0,276.0 487.0,276.1 488.0,276.2 489.0,276.2 490.0,276.3 491.0,276.3" fill="none" stroke="#3a3a8a" stroke-width="0.95" stroke-linejoin="round"/>
<polyline points="365.0,275.5 366.0,275.4 367.0,275.4 368.0,275.3 369.0,275.3 370.0,275.2 371.0,275.2 372.0,275.1 373.0,275.1 374.0,275.0 375.0,275.0 376.0,274.9 377.0,274.8 378.0,274.8 379.0,274.7 380.0,274.7 381.0,274.6 382.0,274.6 383.0,274.5 384.0,274.5 385.0,274.4 386.0,274.4 387.0,274.3 388.0,274.3 389.0,274.2 390.0,274.1 391.0,274.1 392.0,274.0 393.0,274.0 394.0,273.9 395.0,273.9 396.0,273.8 397.0,273.8 398.0,273.7 399.0,273.7 400.0,273.6 401.0,273.5 402.0,273.4 403.0,273.3 404.0,273.2 405.0,273.1 406.0,272.9 407.0,272.8 408.0,272.7 409.0,272.6 410.0,272.5 411.0,272.4 412.0,272.3 413.0,272.2 414.0,272.1 415.0,272.0 416.0,271.8 417.0,271.6 418.0,271.3 419.0,271.0 420.0,270.7 421.0,270.4 422.0,270.1 423.0,269.8 424.0,269.5 425.0,269.2 426.0,268.0 427.0,265.9 428.0,263.9 429.0,261.8 430.0,256.2 431.0,250.6 432.0,244.9 433.0,241.3 434.0,242.3 435.0,243.2 436.0,244.2 437.0,245.2 438.0,246.4 439.0,247.6 440.0,248.9 441.0,250.1 442.0,251.4 443.0,252.6 444.0,253.9 445.0,254.8 446.0,255.5 447.0,256.1 448.0,256.7 449.0,257.4 450.0,258.0 451.0,258.7 452.0,259.3 453.0,259.9 454.0,260.6 455.0,261.2 456.0,261.9 457.0,262.5 458.0,262.9 459.0,263.1 460.0,263.4 461.0,263.6 462.0,263.9 463.0,264.1 464.0,264.4 465.0,264.6 466.0,264.9 467.0,265.2 468.0,265.4 469.0,265.7 470.0,265.9 471.0,266.2 472.0,266.4 473.0,266.7 474.0,266.9 475.0,267.2 476.0,267.4 477.0,267.5 478.0,267.6 479.0,267.7 480.0,267.8 481.0,267.9 482.0,268.0 483.0,268.1 484.0,268.2 485.0,268.3 486.0,268.4 487.0,268.5 488.0,268.6 489.0,268.7 490.0,268.8 491.0,268.9" fill="none" stroke="#a83a3a" stroke-width="1.05" stroke-linejoin="round"/>
<polyline points="364.5,243.9 365.8,244.4 367.1,245.4 368.4,244.8 369.7,245.4 371.0,245.6 372.3,244.7 373.6,243.4 374.9,242.5 376.2,242.0 377.5,241.3 378.8,239.4 380.1,237.4 381.4,236.0 382.7,234.9 384.0,234.0 385.3,235.7 386.6,239.0 387.9,240.7 389.2,241.4 390.5,242.6 391.8,244.0 393.1,245.4 394.4,241.5 395.7,239.8 397.0,239.0 398.3,237.7 399.6,238.4 400.9,238.7 402.2,239.5 403.5,238.5 404.8,239.4 406.1,240.3 407.4,240.9 408.7,242.8 410.0,241.3 411.3,238.1 412.6,235.0 413.9,235.2 415.2,234.6 416.5,233.8 417.8,232.6 419.1,232.8 420.4,232.2 421.7,232.8 423.0,233.4 424.3,231.2 425.6,228.0 426.9,225.0 428.2,221.2 429.5,217.1 430.8,215.6 432.1,214.2 433.4,211.5 434.7,210.3 436.0,209.0 437.3,207.2 438.6,206.9 439.9,205.2 441.2,203.6 442.5,202.8 443.8,203.7 445.1,206.0 446.4,210.6 447.7,216.7 449.0,223.2 450.3,225.8 451.6,227.8 452.9,230.7 454.2,228.8 455.5,228.4 456.8,226.3 458.1,226.8 459.4,229.1 460.7,231.0 462.0,231.7 463.3,229.5 464.6,228.3 465.9,226.0 467.2,223.8 468.5,226.8 469.8,230.3 471.1,232.8 472.4,230.6 473.7,230.1 475.0,228.6 476.3,226.2 477.6,228.7 478.9,229.2 480.2,230.1 481.5,229.8 482.8,229.3 484.1,227.8 485.4,228.3 486.7,229.5 488.0,230.5 489.3,228.9 490.6,226.9 491.9,225.0" fill="none" stroke="#3ec6bd" stroke-width="1.05" stroke-linejoin="round"/>
<rect x="361.5" y="198.7" width="135.8" height="83.5" fill="none" stroke="#444" stroke-width="0.9"/>
<line x1="358.5" y1="279" x2="361.5" y2="279" stroke="#555" stroke-width="0.6"/>
<text transform="translate(356.6,279) rotate(-90)" font-size="4.7" font-weight="bold" fill="#222" stroke="#222" stroke-width="0.3" text-anchor="middle">0</text>
<line x1="358.5" y1="262.5" x2="361.5" y2="262.5" stroke="#555" stroke-width="0.6"/>
<text transform="translate(356.6,262.5) rotate(-90)" font-size="4.7" font-weight="bold" fill="#222" stroke="#222" stroke-width="0.3" text-anchor="middle">2</text>
<line x1="358.5" y1="245" x2="361.5" y2="245" stroke="#555" stroke-width="0.6"/>
<text transform="translate(356.6,245) rotate(-90)" font-size="4.7" font-weight="bold" fill="#222" stroke="#222" stroke-width="0.3" text-anchor="middle">4</text>
<line x1="358.5" y1="227.8" x2="361.5" y2="227.8" stroke="#555" stroke-width="0.6"/>
<text transform="translate(356.6,227.8) rotate(-90)" font-size="4.7" font-weight="bold" fill="#222" stroke="#222" stroke-width="0.3" text-anchor="middle">6</text>
<line x1="358.5" y1="210.5" x2="361.5" y2="210.5" stroke="#555" stroke-width="0.6"/>
<text transform="translate(356.6,210.5) rotate(-90)" font-size="4.7" font-weight="bold" fill="#222" stroke="#222" stroke-width="0.3" text-anchor="middle">8</text>
<text transform="translate(351.2,245.7) rotate(-90)" font-size="5.3" font-weight="bold" fill="#222" stroke="#222" stroke-width="0.3" text-anchor="middle" textLength="16.8" lengthAdjust="spacingAndGlyphs">signal</text>
<text x="395.5" y="196.6" font-size="5.5" font-weight="bold" fill="#111" text-anchor="start" textLength="73.5" lengthAdjust="spacingAndGlyphs" stroke="#111" stroke-width="0.32" >MLL-AF6-rep3.H3K79me2</text>
<line x1="363.4" y1="202.9" x2="370.4" y2="202.9" stroke="#3a3a8a" stroke-width="0.9"/>
<text x="373.0" y="204.2" font-size="5.3" fill="#222" stroke="#222" stroke-width="0.06" textLength="18.2" lengthAdjust="spacingAndGlyphs">No expr.</text>
<line x1="363.4" y1="208.1" x2="370.4" y2="208.1" stroke="#a83a3a" stroke-width="0.9"/>
<text x="373.0" y="209.4" font-size="5.3" fill="#222" stroke="#222" stroke-width="0.06" textLength="20.8" lengthAdjust="spacingAndGlyphs">High expr.</text>
<line x1="363.4" y1="213.3" x2="370.4" y2="213.3" stroke="#3ec6bd" stroke-width="0.9"/>
<text x="373.0" y="214.6" font-size="5.3" fill="#222" stroke="#222" stroke-width="0.06" textLength="37.3" lengthAdjust="spacingAndGlyphs">MLL core targets</text>
<line x1="363.4" y1="218.4" x2="370.4" y2="218.4" stroke="#d8a0a0" stroke-width="0.9"/>
<text x="373.0" y="219.7" font-size="5.3" fill="#222" stroke="#222" stroke-width="0.06" textLength="19.8" lengthAdjust="spacingAndGlyphs">Control 1</text>
<line x1="363.4" y1="223.6" x2="370.4" y2="223.6" stroke="#9a9a9a" stroke-width="0.9"/>
<text x="373.0" y="224.9" font-size="5.3" fill="#222" stroke="#222" stroke-width="0.06" textLength="19.8" lengthAdjust="spacingAndGlyphs">Control 2</text>
<line x1="363.4" y1="228.8" x2="370.4" y2="228.8" stroke="#c4c4c4" stroke-width="0.9"/>
<text x="373.0" y="230.1" font-size="5.3" fill="#222" stroke="#222" stroke-width="0.06" textLength="20.1" lengthAdjust="spacingAndGlyphs">Control 3</text>
<text x="364.5" y="289.2" font-size="5.8" font-weight="bold" fill="#111" text-anchor="start" textLength="13.5" lengthAdjust="spacingAndGlyphs" stroke="#111" stroke-width="0.35" >-10k</text>
<text x="426" y="289.2" font-size="5.8" font-weight="bold" fill="#111" text-anchor="start" textLength="3.5" lengthAdjust="spacingAndGlyphs" stroke="#111" stroke-width="0.35" >0</text>
<text x="488" y="289.2" font-size="5.8" font-weight="bold" fill="#111" text-anchor="start" textLength="15.6" lengthAdjust="spacingAndGlyphs" stroke="#111" stroke-width="0.35" >+10K</text>
<text x="395.5" y="296.9" font-size="5.8" font-weight="bold" fill="#111" text-anchor="start" textLength="70.0" lengthAdjust="spacingAndGlyphs" stroke="#111" stroke-width="0.3" >position (relative to TSS)</text>
<text x="0" y="314.9" font-size="12" font-weight="bold" fill="#111" text-anchor="start" textLength="8.3" lengthAdjust="spacingAndGlyphs" stroke="#111" stroke-width="0.5" >C</text>
<text x="24.8" y="319.1" font-size="6.8" font-weight="bold" fill="#2b5860" text-anchor="start" textLength="24.8" lengthAdjust="spacingAndGlyphs" stroke="#2b5860" stroke-width="0.32" >Dot1l f/f</text>
<text x="24.8" y="327.0" font-size="6.8" font-weight="bold" fill="#2b5860" text-anchor="start" textLength="26.5" lengthAdjust="spacingAndGlyphs" stroke="#2b5860" stroke-width="0.32" >BM cells</text>
<text x="68.7" y="319.1" font-size="6.8" font-weight="bold" fill="#2b5860" text-anchor="start" textLength="57.3" lengthAdjust="spacingAndGlyphs" stroke="#2b5860" stroke-width="0.32" >Transduction with</text>
<text x="84.2" y="326.6" font-size="6.8" font-weight="bold" fill="#2b5860" text-anchor="start" textLength="27.6" lengthAdjust="spacingAndGlyphs" stroke="#2b5860" stroke-width="0.32" >MLL-AF6</text>
<text x="136" y="319.1" font-size="6.8" font-weight="bold" fill="#2b5860" text-anchor="start" textLength="57.3" lengthAdjust="spacingAndGlyphs" stroke="#2b5860" stroke-width="0.32" >Transduction with</text>
<text x="144.1" y="327.0" font-size="6.8" font-weight="bold" fill="#2b5860" text-anchor="start" textLength="41.8" lengthAdjust="spacingAndGlyphs" stroke="#2b5860" stroke-width="0.32" >Mi-Tomato or</text>
<text x="141.4" y="335.1" font-size="6.8" font-weight="bold" fill="#2b5860" text-anchor="start" textLength="47.8" lengthAdjust="spacingAndGlyphs" stroke="#2b5860" stroke-width="0.32" >Cre-Mi-Tomato</text>
<text x="211" y="319.1" font-size="6.8" font-weight="bold" fill="#2b5860" text-anchor="start" textLength="55.2" lengthAdjust="spacingAndGlyphs" stroke="#2b5860" stroke-width="0.32" >Sorting Vector or</text>
<text x="211.7" y="327.0" font-size="6.8" font-weight="bold" fill="#2b5860" text-anchor="start" textLength="52.5" lengthAdjust="spacingAndGlyphs" stroke="#2b5860" stroke-width="0.32" >CRE Expressing</text>
<text x="230.6" y="335.1" font-size="6.8" font-weight="bold" fill="#2b5860" text-anchor="start" textLength="15.4" lengthAdjust="spacingAndGlyphs" stroke="#2b5860" stroke-width="0.32" >Cells</text>
<text x="282.4" y="319.1" font-size="6.8" font-weight="bold" fill="#2b5860" text-anchor="start" textLength="51.8" lengthAdjust="spacingAndGlyphs" stroke="#2b5860" stroke-width="0.32" >Colony Forming</text>
<text x="296.5" y="327.0" font-size="6.8" font-weight="bold" fill="#2b5860" text-anchor="start" textLength="22.9" lengthAdjust="spacingAndGlyphs" stroke="#2b5860" stroke-width="0.32" >Assays</text>
<line x1="57.2" y1="357.2" x2="74.5" y2="357.2" stroke="#111" stroke-width="1.1"/>
<polyline points="71,354.2 75,357.2 71,360.2" fill="none" stroke="#111" stroke-width="1.1"/>
<line x1="120.6" y1="357.5" x2="140.5" y2="357.5" stroke="#111" stroke-width="1.1"/>
<polyline points="137,354.5 141,357.5 137,360.5" fill="none" stroke="#111" stroke-width="1.1"/>
<line x1="188" y1="357.2" x2="207.5" y2="357.2" stroke="#111" stroke-width="1.1"/>
<polyline points="204,354.2 208,357.2 204,360.2" fill="none" stroke="#111" stroke-width="1.1"/>
<line x1="258" y1="357" x2="278.5" y2="357" stroke="#111" stroke-width="1.1"/>
<polyline points="275,354 279,357 275,360" fill="none" stroke="#111" stroke-width="1.1"/>
<defs><radialGradient id="pg" cx="0.45" cy="0.45" r="0.6"><stop offset="0" stop-color="#3a0a5a"/><stop offset="0.7" stop-color="#5a1a6a"/><stop offset="1" stop-color="#7a2a72"/></radialGradient></defs>
<circle cx="37" cy="357" r="6.5" fill="#d02048"/>
<circle cx="35.3" cy="355" r="4.2" fill="#e2203a"/>
<circle cx="35.3" cy="355" r="2.70" fill="url(#pg)"/>
<circle cx="36.56" cy="355.42" r="0.45" fill="#fff" opacity="0.7"/>
<circle cx="41" cy="361" r="3.5" fill="#c02050"/>
<circle cx="41" cy="361" r="2.00" fill="url(#pg)"/>
<circle cx="42.05" cy="361.35" r="0.45" fill="#fff" opacity="0.7"/>
<circle cx="28.2" cy="349.5" r="5.1" fill="#e2203a"/>
<circle cx="28.2" cy="349.5" r="3.60" fill="url(#pg)"/>
<circle cx="29.73" cy="350.01" r="0.45" fill="#fff" opacity="0.7"/>
<circle cx="39.8" cy="348.7" r="5.3" fill="#e2203a"/>
<circle cx="39.8" cy="348.7" r="3.80" fill="url(#pg)"/>
<circle cx="41.39" cy="349.23" r="0.45" fill="#fff" opacity="0.7"/>
<circle cx="47.9" cy="354.8" r="5.4" fill="#a82a6a"/>
<circle cx="47.9" cy="354.8" r="3.90" fill="url(#pg)"/>
<circle cx="49.52" cy="355.34" r="0.45" fill="#fff" opacity="0.7"/>
<circle cx="26.4" cy="360.7" r="5.0" fill="#d8204a"/>
<circle cx="26.4" cy="360.7" r="3.50" fill="url(#pg)"/>
<circle cx="27.90" cy="361.20" r="0.45" fill="#fff" opacity="0.7"/>
<circle cx="33" cy="364.6" r="5.7" fill="#b0286a"/>
<circle cx="33" cy="364.6" r="4.20" fill="url(#pg)"/>
<circle cx="34.71" cy="365.17" r="0.45" fill="#fff" opacity="0.7"/>
<circle cx="44.6" cy="364.6" r="5.7" fill="#a82a6a"/>
<circle cx="44.6" cy="364.6" r="4.20" fill="url(#pg)"/>
<circle cx="46.31" cy="365.17" r="0.45" fill="#fff" opacity="0.7"/>
<circle cx="91.2" cy="351.2" r="4.1" fill="#f4f5e6" stroke="#9cb282" stroke-width="0.9" stroke-dasharray="0.9,0.45"/>
<circle cx="98" cy="350.2" r="4.0" fill="#f4f5e6" stroke="#9cb282" stroke-width="0.9" stroke-dasharray="0.9,0.45"/>
<circle cx="104.9" cy="353.3" r="3.9" fill="#f4f5e6" stroke="#9cb282" stroke-width="0.9" stroke-dasharray="0.9,0.45"/>
<circle cx="93.6" cy="359.4" r="4.1" fill="#f4f5e6" stroke="#9cb282" stroke-width="0.9" stroke-dasharray="0.9,0.45"/>
<circle cx="101" cy="359.4" r="4.1" fill="#f4f5e6" stroke="#9cb282" stroke-width="0.9" stroke-dasharray="0.9,0.45"/>
<circle cx="89.8" cy="368.6" r="4.5" fill="#5e1660"/>
<circle cx="99.5" cy="368.6" r="4.5" fill="#d81f36"/>
<circle cx="109.5" cy="368.6" r="4.5" fill="#5e1660"/>
<rect x="76.7" y="368.6" width="40.7" height="11.699999999999989" fill="#e4e0d0"/>
<rect x="76.7" y="368.6" width="40.7" height="1.6" fill="#d2c9b0"/>
<circle cx="156.5" cy="350.1" r="3.9" fill="#f6efe6" stroke="#9cb282" stroke-width="0.9" stroke-dasharray="0.9,0.45"/>
<circle cx="164.6" cy="349.5" r="4.1" fill="#f6efe6" stroke="#9cb282" stroke-width="0.9" stroke-dasharray="0.9,0.45"/>
<circle cx="171.2" cy="353.3" r="3.9" fill="#f6efe6" stroke="#9cb282" stroke-width="0.9" stroke-dasharray="0.9,0.45"/>
<circle cx="158.5" cy="358.2" r="4.1" fill="#f6efe6" stroke="#9cb282" stroke-width="0.9" stroke-dasharray="0.9,0.45"/>
<circle cx="167.2" cy="358.7" r="4.1" fill="#f6efe6" stroke="#9cb282" stroke-width="0.9" stroke-dasharray="0.9,0.45"/>
<circle cx="157" cy="368.6" r="4.5" fill="#5e1660"/>
<circle cx="167" cy="368.6" r="4.5" fill="#d81f36"/>
<circle cx="176.5" cy="368.6" r="4.5" fill="#5e1660"/>
<rect x="143.6" y="368.6" width="40.70000000000002" height="11.699999999999989" fill="#e4e0d0"/>
<rect x="143.6" y="368.6" width="40.70000000000002" height="1.6" fill="#d2c9b0"/>
<rect x="214.3" y="343.6" width="34.3" height="35" fill="#fff" stroke="#2a2a2a" stroke-width="1.3"/>
<line x1="229.3" y1="344.2" x2="229.3" y2="378" stroke="#aaa" stroke-width="0.6"/>
<line x1="215" y1="365" x2="248" y2="365" stroke="#aaa" stroke-width="0.6"/>
<rect x="230.7" y="367.9" width="15" height="9.2" fill="none" stroke="#333" stroke-width="0.8" stroke-dasharray="1.4,1"/>
<polyline points="234.3,336.5 234.3,348.6 237.9,348.6 237.9,366" fill="none" stroke="#c43a52" stroke-width="1"/>
<polyline points="235.4,362.5 237.9,366.4 240.4,362.5" fill="none" stroke="#c43a52" stroke-width="1"/>
<defs><filter id="blur" x="-50%" y="-50%" width="200%" height="200%"><feGaussianBlur stdDeviation="2.8"/></filter></defs>
<ellipse cx="317" cy="363" rx="20" ry="9.5" fill="#7a7a7a" opacity="0.55" filter="url(#blur)"/>
<ellipse cx="308.3" cy="357" rx="19.5" ry="11" fill="#e9eded" stroke="#c4cccf" stroke-width="0.7"/>
<ellipse cx="309.5" cy="359.8" rx="17.6" ry="7.8" fill="#c9dce2" stroke="#b4c6cc" stroke-width="0.4"/>
<ellipse cx="308.5" cy="351" rx="16.5" ry="4.2" fill="none" stroke="#fafbfb" stroke-width="0.9"/>
<ellipse cx="301.5" cy="358.3" rx="2.2" ry="0.5" fill="#e2eef0" opacity="0.7"/>
<ellipse cx="306.5" cy="360.8" rx="2.2" ry="0.5" fill="#e2eef0" opacity="0.7"/>
<ellipse cx="313.5" cy="357.8" rx="2.2" ry="0.5" fill="#e2eef0" opacity="0.7"/>
<ellipse cx="318.5" cy="360.3" rx="2.2" ry="0.5" fill="#e2eef0" opacity="0.7"/>
<ellipse cx="298.5" cy="362.3" rx="2.2" ry="0.5" fill="#e2eef0" opacity="0.7"/>
<ellipse cx="309.5" cy="363.3" rx="2.2" ry="0.5" fill="#e2eef0" opacity="0.7"/>
<ellipse cx="315.5" cy="362.8" rx="2.2" ry="0.5" fill="#e2eef0" opacity="0.7"/>
<ellipse cx="321.5" cy="358.8" rx="2.2" ry="0.5" fill="#e2eef0" opacity="0.7"/>
<text x="355" y="315.5" font-size="12" font-weight="bold" fill="#111" text-anchor="start" textLength="9.5" lengthAdjust="spacingAndGlyphs" stroke="#111" stroke-width="0.6" >D</text>
<text x="371.6" y="319.4" font-size="8.6" font-weight="bold" fill="#111" text-anchor="start" textLength="45.3" lengthAdjust="spacingAndGlyphs" stroke="#111" stroke-width="0.35" >Dot1l wt/wt</text>
<text x="429" y="319.4" font-size="8.6" font-weight="bold" fill="#111" text-anchor="start" textLength="36.5" lengthAdjust="spacingAndGlyphs" stroke="#111" stroke-width="0.35" >Dot1l fl/fl</text>
<text x="376" y="333.2" font-size="8.6" font-weight="bold" fill="#111" text-anchor="start" textLength="15" lengthAdjust="spacingAndGlyphs" stroke="#111" stroke-width="0.35" >MIT</text>
<text x="401.4" y="333.2" font-size="8.6" font-weight="bold" fill="#111" text-anchor="start" textLength="12.6" lengthAdjust="spacingAndGlyphs" stroke="#111" stroke-width="0.35" >Cre</text>
<text x="433.5" y="333.2" font-size="8.6" font-weight="bold" fill="#111" text-anchor="start" textLength="14.3" lengthAdjust="spacingAndGlyphs" stroke="#111" stroke-width="0.35" >MIT</text>
<text x="452.3" y="333.2" font-size="8.6" font-weight="bold" fill="#111" text-anchor="start" textLength="13.2" lengthAdjust="spacingAndGlyphs" stroke="#111" stroke-width="0.35" >Cre</text>
<text x="477" y="350.3" font-size="8.6" font-weight="bold" fill="#111" text-anchor="start" textLength="41" lengthAdjust="spacingAndGlyphs" stroke="#111" stroke-width="0.35" >H3K79me2</text>
<text x="483" y="377.2" font-size="8.6" font-weight="bold" fill="#111" text-anchor="start" textLength="30.5" lengthAdjust="spacingAndGlyphs" stroke="#111" stroke-width="0.35" >Total H3</text>
<line x1="379.4" y1="322.8" x2="411.7" y2="322.8" stroke="#777" stroke-width="0.9"/>
<line x1="433.8" y1="322.8" x2="466.7" y2="322.8" stroke="#777" stroke-width="0.9"/>
<rect x="376.7" y="340" width="89.3" height="17.2" fill="#c9c9c9" stroke="#141414" stroke-width="1.8"/>
<rect x="376.7" y="365" width="89.3" height="17.2" fill="#c9c9c9" stroke="#141414" stroke-width="1.8"/>
<defs><filter id="b1" x="-20%" y="-100%" width="140%" height="300%"><feGaussianBlur stdDeviation="0.75"/></filter></defs>
<rect x="380.5" y="350.7" width="15.5" height="3.0" rx="1.2" fill="#707070" filter="url(#b1)"/>
<rect x="400.2" y="350.4" width="17.80000000000001" height="3.0" rx="1.2" fill="#686868" filter="url(#b1)"/>
<rect x="422" y="349.9" width="16.899999999999977" height="3.2" rx="1.2" fill="#5a5a5a" filter="url(#b1)"/>
<path d="M422,349.5 Q421,352 423,353.5" stroke="#5a5a5a" stroke-width="0.8" fill="none"/>
<rect x="380" y="372.8" width="16.5" height="3.0" rx="1.2" fill="#747474" filter="url(#b1)"/>
<rect x="401.2" y="372.6" width="16.80000000000001" height="3.0" rx="1.2" fill="#6e6e6e" filter="url(#b1)"/>
<rect x="422" y="372.3" width="17.80000000000001" height="3.4" rx="1.2" fill="#585858" filter="url(#b1)"/>
<rect x="443.6" y="372.8" width="18.799999999999955" height="2.4" rx="1.2" fill="#8a8a8a" filter="url(#b1)"/>
</svg></body></html>
